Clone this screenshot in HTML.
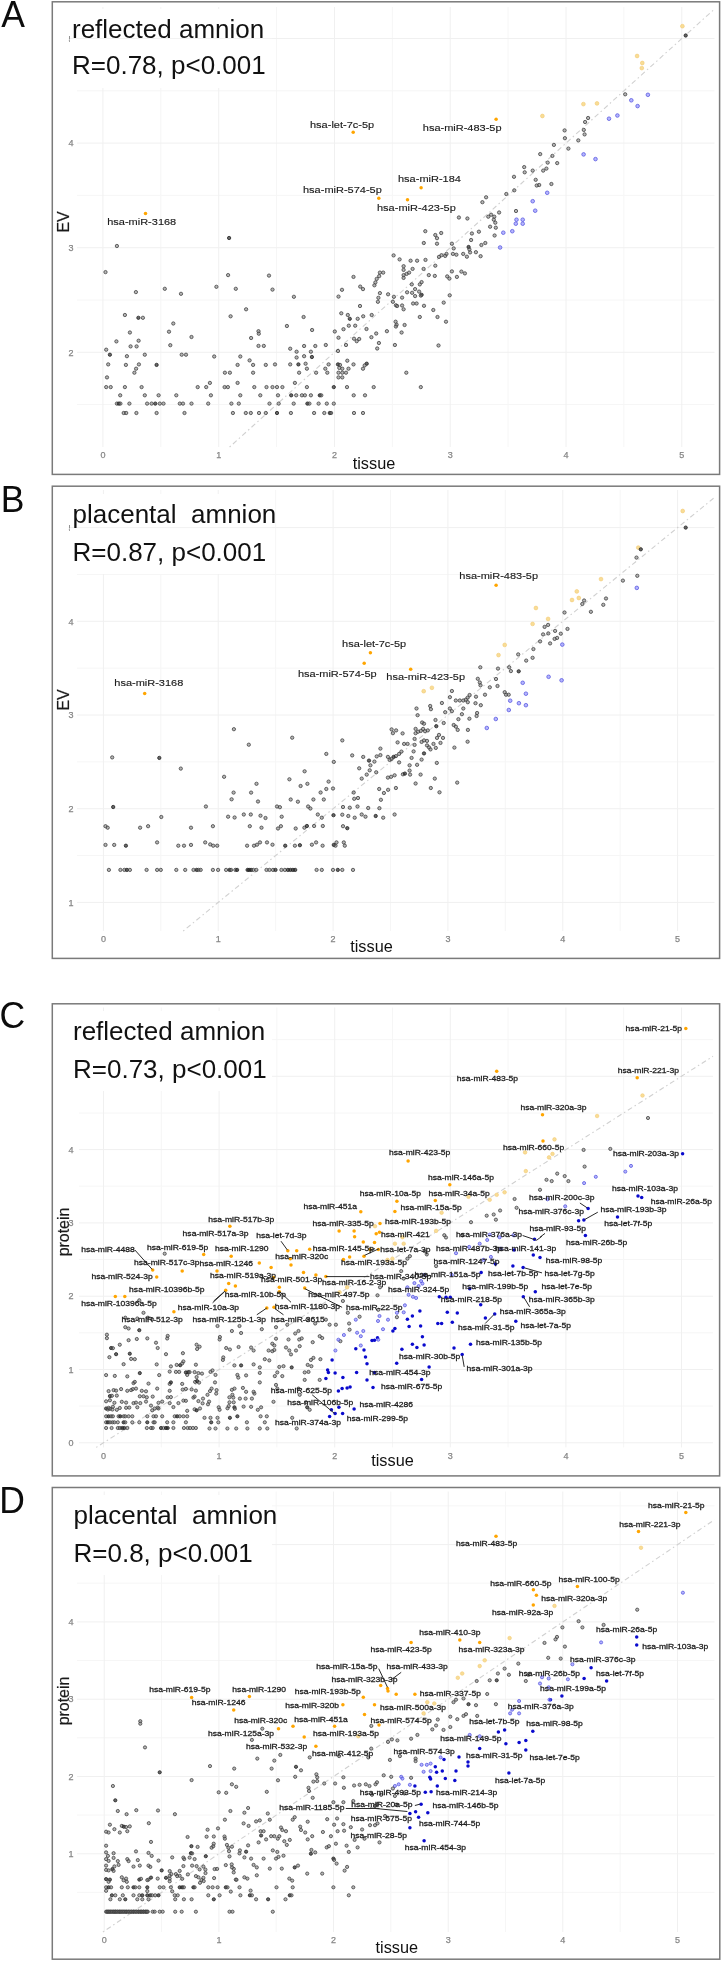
<!DOCTYPE html>
<html><head><meta charset="utf-8"><title>Figure</title>
<style>
html,body{margin:0;padding:0;background:#fff;}
body{width:722px;height:1962px;overflow:hidden;font-family:"Liberation Sans",sans-serif;}
svg{display:block;will-change:transform;}
.g{fill:rgba(110,110,110,.5);stroke:#3c3c3c;stroke-width:.85;stroke-opacity:.9}
.gd{fill:rgba(40,40,40,.7);stroke:#222;stroke-width:.8}
.o{fill:#ffa500;stroke:none}
.lo{fill:#f8dd96;stroke:#f3c974;stroke-width:.6}
.b{fill:#0a0acd;stroke:none}
.lb{fill:rgba(120,120,255,.55);stroke:#5a5ae0;stroke-width:.8}
.t{font-size:9px;fill:#868686;stroke:#868686;stroke-width:.25px;text-anchor:middle}
.ll{stroke:#2a2a2a;stroke-width:1;fill:none}
</style></head><body>
<svg width="722" height="1962" viewBox="0 0 722 1962" font-family="Liberation Sans, sans-serif">
<rect x="0" y="0" width="722" height="1962" fill="#fff"/>
<!-- panel A -->
<g>
<text transform="translate(1.2,27) scale(1,1.06)" font-size="35.5" fill="#0c0c0c">A</text>
<rect x="52.3" y="1.8" width="667.3" height="472.6" fill="#fff" stroke="#7a7a7a" stroke-width="1.5"/>
<path d="M160.8 7V447M276.6 7V447M392.4 7V447M508.1 7V447M623.9 7V447M77 404.6H714.5M77 300.0H714.5M77 195.4H714.5M77 90.8H714.5" stroke="#f6f6f6" stroke-width="1" fill="none"/>
<path d="M102.9 7V447M218.7 7V447M334.5 7V447M450.2 7V447M566.0 7V447M681.8 7V447M77 352.3H714.5M77 247.7H714.5M77 143.1H714.5M77 38.5H714.5" stroke="#f0f0f0" stroke-width="1" fill="none"/>
<text class="t" x="102.9" y="457.7">0</text><text class="t" x="218.7" y="457.7">1</text><text class="t" x="334.5" y="457.7">2</text><text class="t" x="450.2" y="457.7">3</text><text class="t" x="566.0" y="457.7">4</text><text class="t" x="681.8" y="457.7">5</text><text class="t" x="71" y="355.5">2</text><text class="t" x="71" y="250.9">3</text><text class="t" x="71" y="146.3">4</text><text class="t" x="71" y="41.7">5</text>
<line x1="229.6" y1="447.0" x2="714.5" y2="9.0" stroke="#d0d0d0" stroke-width="1.1" stroke-dasharray="1.5 3 5 3"/>
<circle class="g" cx="116.9" cy="246.0" r="1.65"/><circle class="g" cx="105.5" cy="272.1" r="1.65"/><circle class="g" cx="135.9" cy="292.1" r="1.65"/><circle class="g" cx="164.8" cy="288.8" r="1.65"/><circle class="g" cx="181.0" cy="293.8" r="1.65"/><circle class="gd" cx="229.1" cy="238.0" r="1.65"/><circle class="g" cx="228.1" cy="275.1" r="1.65"/><circle class="g" cx="216.4" cy="286.8" r="1.65"/><circle class="g" cx="235.8" cy="288.8" r="1.65"/><circle class="g" cx="269.0" cy="275.6" r="1.65"/><circle class="g" cx="246.1" cy="309.3" r="1.65"/><circle class="g" cx="230.6" cy="316.3" r="1.65"/><circle class="g" cx="124.9" cy="315.0" r="1.65"/><circle class="gd" cx="138.4" cy="317.8" r="1.65"/><circle class="g" cx="142.9" cy="317.8" r="1.65"/><circle class="g" cx="173.3" cy="323.5" r="1.65"/><circle class="g" cx="169.0" cy="331.7" r="1.65"/><circle class="g" cx="129.9" cy="332.5" r="1.65"/><circle class="g" cx="191.5" cy="337.0" r="1.65"/><circle class="g" cx="116.4" cy="341.4" r="1.65"/><circle class="g" cx="138.6" cy="340.7" r="1.65"/><circle class="g" cx="130.6" cy="346.4" r="1.65"/><circle class="g" cx="136.6" cy="346.4" r="1.65"/><circle class="g" cx="170.3" cy="345.2" r="1.65"/><circle class="g" cx="258.5" cy="331.2" r="1.65"/><circle class="g" cx="258.8" cy="333.7" r="1.65"/><circle class="g" cx="251.1" cy="338.0" r="1.65"/><circle class="g" cx="258.5" cy="345.9" r="1.65"/><circle class="g" cx="263.8" cy="345.9" r="1.65"/><circle class="g" cx="106.2" cy="349.7" r="1.65"/><circle class="gd" cx="109.9" cy="354.7" r="1.65"/><circle class="g" cx="126.9" cy="356.2" r="1.65"/><circle class="g" cx="144.8" cy="354.7" r="1.65"/><circle class="g" cx="181.7" cy="354.7" r="1.65"/><circle class="g" cx="186.0" cy="354.7" r="1.65"/><circle class="g" cx="214.2" cy="356.5" r="1.65"/><circle class="g" cx="240.3" cy="356.5" r="1.65"/><circle class="g" cx="249.6" cy="360.4" r="1.65"/><circle class="g" cx="108.2" cy="364.4" r="1.65"/><circle class="g" cx="125.9" cy="364.9" r="1.65"/><circle class="g" cx="138.9" cy="364.4" r="1.65"/><circle class="gd" cx="156.6" cy="364.9" r="1.65"/><circle class="g" cx="237.6" cy="364.9" r="1.65"/><circle class="g" cx="253.1" cy="364.9" r="1.65"/><circle class="g" cx="265.8" cy="364.9" r="1.65"/><circle class="g" cx="136.1" cy="368.7" r="1.65"/><circle class="g" cx="134.4" cy="372.7" r="1.65"/><circle class="g" cx="224.9" cy="372.7" r="1.65"/><circle class="g" cx="229.9" cy="372.7" r="1.65"/><circle class="g" cx="253.1" cy="372.7" r="1.65"/><circle class="g" cx="107.0" cy="377.4" r="1.65"/><circle class="g" cx="209.9" cy="382.9" r="1.65"/><circle class="g" cx="237.6" cy="382.9" r="1.65"/><circle class="g" cx="106.2" cy="387.1" r="1.65"/><circle class="g" cx="110.7" cy="387.1" r="1.65"/><circle class="g" cx="124.9" cy="387.1" r="1.65"/><circle class="g" cx="141.6" cy="387.1" r="1.65"/><circle class="g" cx="197.7" cy="387.1" r="1.65"/><circle class="g" cx="206.2" cy="387.1" r="1.65"/><circle class="g" cx="224.6" cy="387.1" r="1.65"/><circle class="g" cx="227.9" cy="387.1" r="1.65"/><circle class="g" cx="254.3" cy="387.1" r="1.65"/><circle class="g" cx="266.5" cy="387.1" r="1.65"/><circle class="g" cx="120.2" cy="395.3" r="1.65"/><circle class="g" cx="144.8" cy="395.3" r="1.65"/><circle class="g" cx="158.6" cy="395.3" r="1.65"/><circle class="g" cx="176.3" cy="395.3" r="1.65"/><circle class="g" cx="210.9" cy="395.3" r="1.65"/><circle class="g" cx="240.3" cy="395.3" r="1.65"/><circle class="g" cx="260.3" cy="395.3" r="1.65"/><circle class="g" cx="116.9" cy="403.6" r="1.65"/><circle class="gd" cx="118.9" cy="403.6" r="1.65"/><circle class="g" cx="120.4" cy="403.6" r="1.65"/><circle class="g" cx="129.4" cy="403.6" r="1.65"/><circle class="g" cx="147.1" cy="403.6" r="1.65"/><circle class="g" cx="151.6" cy="403.6" r="1.65"/><circle class="gd" cx="155.3" cy="403.6" r="1.65"/><circle class="g" cx="159.8" cy="403.6" r="1.65"/><circle class="g" cx="163.5" cy="403.6" r="1.65"/><circle class="g" cx="179.8" cy="403.6" r="1.65"/><circle class="g" cx="183.0" cy="403.6" r="1.65"/><circle class="g" cx="191.5" cy="403.6" r="1.65"/><circle class="g" cx="208.2" cy="403.6" r="1.65"/><circle class="g" cx="231.4" cy="403.6" r="1.65"/><circle class="g" cx="238.8" cy="403.6" r="1.65"/><circle class="g" cx="269.5" cy="403.6" r="1.65"/><circle class="g" cx="123.7" cy="413.0" r="1.65"/><circle class="g" cx="126.2" cy="413.0" r="1.65"/><circle class="g" cx="136.4" cy="413.0" r="1.65"/><circle class="g" cx="156.6" cy="413.0" r="1.65"/><circle class="g" cx="184.5" cy="413.0" r="1.65"/><circle class="g" cx="232.9" cy="413.0" r="1.65"/><circle class="g" cx="245.8" cy="413.0" r="1.65"/><circle class="g" cx="250.8" cy="413.0" r="1.65"/><circle class="g" cx="259.0" cy="413.0" r="1.65"/><circle class="g" cx="265.8" cy="413.0" r="1.65"/><circle class="g" cx="290.2" cy="348.7" r="1.65"/><circle class="g" cx="304.1" cy="346.0" r="1.65"/><circle class="g" cx="315.3" cy="346.0" r="1.65"/><circle class="g" cx="325.8" cy="345.0" r="1.65"/><circle class="g" cx="346.0" cy="345.0" r="1.65"/><circle class="g" cx="356.7" cy="341.2" r="1.65"/><circle class="g" cx="378.9" cy="343.0" r="1.65"/><circle class="g" cx="394.9" cy="345.0" r="1.65"/><circle class="g" cx="438.5" cy="345.5" r="1.65"/><circle class="g" cx="296.6" cy="351.7" r="1.65"/><circle class="g" cx="310.9" cy="351.7" r="1.65"/><circle class="g" cx="338.0" cy="351.0" r="1.65"/><circle class="g" cx="377.2" cy="348.5" r="1.65"/><circle class="g" cx="296.6" cy="357.5" r="1.65"/><circle class="g" cx="304.1" cy="356.2" r="1.65"/><circle class="gd" cx="311.9" cy="357.0" r="1.65"/><circle class="g" cx="347.3" cy="360.7" r="1.65"/><circle class="g" cx="275.0" cy="364.4" r="1.65"/><circle class="g" cx="290.2" cy="364.4" r="1.65"/><circle class="gd" cx="298.4" cy="364.4" r="1.65"/><circle class="g" cx="305.6" cy="363.7" r="1.65"/><circle class="g" cx="328.6" cy="364.4" r="1.65"/><circle class="gd" cx="338.0" cy="364.4" r="1.65"/><circle class="g" cx="340.0" cy="364.9" r="1.65"/><circle class="g" cx="353.5" cy="364.4" r="1.65"/><circle class="gd" cx="366.7" cy="363.7" r="1.65"/><circle class="g" cx="364.7" cy="365.4" r="1.65"/><circle class="g" cx="306.9" cy="368.7" r="1.65"/><circle class="g" cx="325.3" cy="368.7" r="1.65"/><circle class="g" cx="339.3" cy="367.9" r="1.65"/><circle class="g" cx="342.3" cy="368.7" r="1.65"/><circle class="g" cx="348.5" cy="368.7" r="1.65"/><circle class="g" cx="363.0" cy="368.7" r="1.65"/><circle class="g" cx="299.1" cy="372.7" r="1.65"/><circle class="g" cx="316.1" cy="372.7" r="1.65"/><circle class="g" cx="327.3" cy="372.7" r="1.65"/><circle class="g" cx="338.5" cy="372.7" r="1.65"/><circle class="g" cx="342.3" cy="372.7" r="1.65"/><circle class="g" cx="346.0" cy="372.7" r="1.65"/><circle class="g" cx="406.3" cy="372.7" r="1.65"/><circle class="g" cx="338.5" cy="377.4" r="1.65"/><circle class="g" cx="342.3" cy="377.4" r="1.65"/><circle class="g" cx="294.9" cy="382.9" r="1.65"/><circle class="g" cx="272.5" cy="387.1" r="1.65"/><circle class="g" cx="277.0" cy="387.1" r="1.65"/><circle class="g" cx="282.4" cy="387.1" r="1.65"/><circle class="g" cx="306.9" cy="387.1" r="1.65"/><circle class="gd" cx="333.8" cy="387.1" r="1.65"/><circle class="g" cx="347.0" cy="387.1" r="1.65"/><circle class="g" cx="373.7" cy="387.1" r="1.65"/><circle class="g" cx="420.8" cy="387.1" r="1.65"/><circle class="g" cx="278.0" cy="395.3" r="1.65"/><circle class="gd" cx="291.2" cy="395.3" r="1.65"/><circle class="g" cx="296.2" cy="395.3" r="1.65"/><circle class="g" cx="301.9" cy="395.3" r="1.65"/><circle class="g" cx="304.9" cy="395.3" r="1.65"/><circle class="g" cx="310.9" cy="395.3" r="1.65"/><circle class="gd" cx="319.8" cy="395.3" r="1.65"/><circle class="g" cx="321.3" cy="395.3" r="1.65"/><circle class="g" cx="353.7" cy="395.3" r="1.65"/><circle class="g" cx="365.0" cy="395.3" r="1.65"/><circle class="g" cx="278.7" cy="403.6" r="1.65"/><circle class="g" cx="293.7" cy="403.6" r="1.65"/><circle class="gd" cx="307.4" cy="403.6" r="1.65"/><circle class="g" cx="309.4" cy="403.6" r="1.65"/><circle class="g" cx="318.6" cy="403.6" r="1.65"/><circle class="g" cx="326.8" cy="403.6" r="1.65"/><circle class="g" cx="333.8" cy="403.6" r="1.65"/><circle class="gd" cx="277.0" cy="413.0" r="1.65"/><circle class="g" cx="290.9" cy="413.0" r="1.65"/><circle class="g" cx="314.1" cy="413.0" r="1.65"/><circle class="g" cx="324.3" cy="413.0" r="1.65"/><circle class="gd" cx="329.8" cy="413.0" r="1.65"/><circle class="g" cx="331.1" cy="413.0" r="1.65"/><circle class="g" cx="354.0" cy="413.0" r="1.65"/><circle class="g" cx="363.0" cy="413.0" r="1.65"/><circle class="g" cx="272.5" cy="289.6" r="1.65"/><circle class="g" cx="293.9" cy="296.8" r="1.65"/><circle class="g" cx="303.6" cy="317.0" r="1.65"/><circle class="g" cx="286.9" cy="326.0" r="1.65"/><circle class="g" cx="312.1" cy="330.0" r="1.65"/><circle class="g" cx="334.8" cy="331.5" r="1.65"/><circle class="g" cx="338.5" cy="337.7" r="1.65"/><circle class="g" cx="343.5" cy="329.2" r="1.65"/><circle class="g" cx="348.8" cy="325.7" r="1.65"/><circle class="g" cx="355.2" cy="325.7" r="1.65"/><circle class="g" cx="347.8" cy="315.0" r="1.65"/><circle class="gd" cx="349.8" cy="318.8" r="1.65"/><circle class="g" cx="341.3" cy="313.3" r="1.65"/><circle class="g" cx="357.7" cy="318.8" r="1.65"/><circle class="g" cx="363.2" cy="316.3" r="1.65"/><circle class="g" cx="371.7" cy="315.0" r="1.65"/><circle class="g" cx="360.0" cy="306.0" r="1.65"/><circle class="g" cx="338.5" cy="296.6" r="1.65"/><circle class="g" cx="342.0" cy="289.8" r="1.65"/><circle class="g" cx="353.5" cy="276.9" r="1.65"/><circle class="g" cx="360.2" cy="286.6" r="1.65"/><circle class="g" cx="363.0" cy="289.1" r="1.65"/><circle class="g" cx="366.5" cy="329.0" r="1.65"/><circle class="g" cx="371.4" cy="337.2" r="1.65"/><circle class="g" cx="376.2" cy="333.5" r="1.65"/><circle class="g" cx="354.0" cy="338.7" r="1.65"/><circle class="g" cx="359.2" cy="339.0" r="1.65"/><circle class="g" cx="374.4" cy="285.3" r="1.65"/><circle class="g" cx="375.4" cy="282.4" r="1.65"/><circle class="g" cx="376.7" cy="278.9" r="1.65"/><circle class="g" cx="379.2" cy="276.1" r="1.65"/><circle class="g" cx="379.9" cy="272.6" r="1.65"/><circle class="g" cx="383.2" cy="272.6" r="1.65"/><circle class="g" cx="379.9" cy="293.1" r="1.65"/><circle class="g" cx="378.4" cy="297.8" r="1.65"/><circle class="g" cx="377.9" cy="301.8" r="1.65"/><circle class="g" cx="388.1" cy="294.3" r="1.65"/><circle class="g" cx="393.9" cy="296.8" r="1.65"/><circle class="g" cx="392.9" cy="301.8" r="1.65"/><circle class="g" cx="395.9" cy="305.3" r="1.65"/><circle class="g" cx="397.1" cy="306.0" r="1.65"/><circle class="g" cx="402.1" cy="297.6" r="1.65"/><circle class="g" cx="402.1" cy="305.5" r="1.65"/><circle class="g" cx="403.6" cy="309.3" r="1.65"/><circle class="g" cx="393.6" cy="255.4" r="1.65"/><circle class="g" cx="399.6" cy="259.4" r="1.65"/><circle class="g" cx="403.6" cy="266.2" r="1.65"/><circle class="g" cx="403.6" cy="269.9" r="1.65"/><circle class="g" cx="403.6" cy="275.1" r="1.65"/><circle class="g" cx="403.6" cy="277.9" r="1.65"/><circle class="g" cx="406.6" cy="273.9" r="1.65"/><circle class="g" cx="409.1" cy="272.6" r="1.65"/><circle class="g" cx="412.6" cy="268.9" r="1.65"/><circle class="g" cx="410.6" cy="260.7" r="1.65"/><circle class="g" cx="417.1" cy="260.7" r="1.65"/><circle class="g" cx="425.5" cy="259.9" r="1.65"/><circle class="g" cx="423.6" cy="268.9" r="1.65"/><circle class="g" cx="435.3" cy="265.7" r="1.65"/><circle class="g" cx="439.0" cy="256.9" r="1.65"/><circle class="g" cx="423.8" cy="243.0" r="1.65"/><circle class="g" cx="425.3" cy="231.2" r="1.65"/><circle class="g" cx="435.3" cy="235.0" r="1.65"/><circle class="g" cx="437.0" cy="238.2" r="1.65"/><circle class="g" cx="437.0" cy="243.7" r="1.65"/><circle class="g" cx="428.8" cy="275.1" r="1.65"/><circle class="g" cx="434.8" cy="275.9" r="1.65"/><circle class="g" cx="421.6" cy="282.1" r="1.65"/><circle class="g" cx="419.8" cy="284.4" r="1.65"/><circle class="g" cx="411.8" cy="284.4" r="1.65"/><circle class="g" cx="415.1" cy="289.1" r="1.65"/><circle class="g" cx="419.1" cy="291.6" r="1.65"/><circle class="gd" cx="421.6" cy="294.8" r="1.65"/><circle class="g" cx="420.8" cy="295.6" r="1.65"/><circle class="g" cx="412.1" cy="292.8" r="1.65"/><circle class="g" cx="415.1" cy="296.1" r="1.65"/><circle class="g" cx="407.1" cy="292.3" r="1.65"/><circle class="g" cx="413.1" cy="303.5" r="1.65"/><circle class="g" cx="416.6" cy="303.5" r="1.65"/><circle class="g" cx="424.0" cy="305.8" r="1.65"/><circle class="g" cx="433.3" cy="310.0" r="1.65"/><circle class="g" cx="437.5" cy="317.0" r="1.65"/><circle class="g" cx="419.8" cy="317.0" r="1.65"/><circle class="g" cx="395.6" cy="321.7" r="1.65"/><circle class="g" cx="396.6" cy="324.7" r="1.65"/><circle class="g" cx="395.9" cy="326.5" r="1.65"/><circle class="g" cx="404.6" cy="325.0" r="1.65"/><circle class="g" cx="401.6" cy="332.5" r="1.65"/><circle class="g" cx="386.9" cy="331.2" r="1.65"/><circle class="g" cx="441.2" cy="233.0" r="1.65"/><circle class="g" cx="451.9" cy="243.7" r="1.65"/><circle class="g" cx="453.7" cy="248.4" r="1.65"/><circle class="g" cx="452.9" cy="253.9" r="1.65"/><circle class="g" cx="456.4" cy="254.7" r="1.65"/><circle class="g" cx="446.5" cy="253.9" r="1.65"/><circle class="g" cx="445.2" cy="255.9" r="1.65"/><circle class="g" cx="441.5" cy="255.2" r="1.65"/><circle class="g" cx="447.2" cy="276.4" r="1.65"/><circle class="g" cx="449.4" cy="278.6" r="1.65"/><circle class="g" cx="451.9" cy="271.4" r="1.65"/><circle class="g" cx="456.9" cy="276.9" r="1.65"/><circle class="g" cx="461.4" cy="271.6" r="1.65"/><circle class="g" cx="464.9" cy="273.4" r="1.65"/><circle class="g" cx="463.2" cy="253.9" r="1.65"/><circle class="g" cx="466.9" cy="256.7" r="1.65"/><circle class="g" cx="470.1" cy="252.4" r="1.65"/><circle class="gd" cx="468.6" cy="247.0" r="1.65"/><circle class="g" cx="469.4" cy="249.4" r="1.65"/><circle class="g" cx="471.1" cy="240.0" r="1.65"/><circle class="g" cx="471.9" cy="233.5" r="1.65"/><circle class="g" cx="478.9" cy="231.7" r="1.65"/><circle class="g" cx="475.9" cy="252.2" r="1.65"/><circle class="g" cx="480.6" cy="256.2" r="1.65"/><circle class="g" cx="481.4" cy="245.0" r="1.65"/><circle class="g" cx="485.3" cy="243.0" r="1.65"/><circle class="g" cx="494.6" cy="235.5" r="1.65"/><circle class="lb" cx="503.3" cy="232.7" r="1.8"/><circle class="lb" cx="512.3" cy="231.2" r="1.8"/><circle class="lb" cx="500.1" cy="247.5" r="1.8"/><circle class="g" cx="449.7" cy="295.3" r="1.65"/><circle class="g" cx="443.7" cy="302.6" r="1.65"/><circle class="g" cx="446.0" cy="321.7" r="1.65"/><circle class="o" cx="496.1" cy="119.2" r="1.75"/><circle class="lo" cx="542.4" cy="116.0" r="1.9"/><circle class="g" cx="588.1" cy="118.0" r="1.65"/><circle class="g" cx="585.1" cy="122.0" r="1.65"/><circle class="g" cx="583.8" cy="129.9" r="1.65"/><circle class="g" cx="584.6" cy="134.4" r="1.65"/><circle class="g" cx="578.3" cy="140.4" r="1.65"/><circle class="g" cx="564.6" cy="130.4" r="1.65"/><circle class="g" cx="564.9" cy="138.2" r="1.65"/><circle class="g" cx="568.4" cy="148.6" r="1.65"/><circle class="g" cx="553.9" cy="144.9" r="1.65"/><circle class="g" cx="552.4" cy="155.9" r="1.65"/><circle class="g" cx="540.2" cy="154.1" r="1.65"/><circle class="g" cx="547.7" cy="162.6" r="1.65"/><circle class="g" cx="557.2" cy="163.1" r="1.65"/><circle class="g" cx="546.4" cy="168.6" r="1.65"/><circle class="g" cx="543.2" cy="170.6" r="1.65"/><circle class="g" cx="532.7" cy="170.6" r="1.65"/><circle class="g" cx="524.2" cy="167.1" r="1.65"/><circle class="g" cx="524.7" cy="172.3" r="1.65"/><circle class="g" cx="514.0" cy="176.8" r="1.65"/><circle class="g" cx="535.7" cy="179.8" r="1.65"/><circle class="g" cx="539.2" cy="185.0" r="1.65"/><circle class="g" cx="536.7" cy="185.5" r="1.65"/><circle class="g" cx="551.4" cy="184.0" r="1.65"/><circle class="g" cx="514.3" cy="190.3" r="1.65"/><circle class="g" cx="506.3" cy="194.0" r="1.65"/><circle class="g" cx="486.1" cy="197.3" r="1.65"/><circle class="g" cx="482.4" cy="202.2" r="1.65"/><circle class="g" cx="516.0" cy="211.0" r="1.65"/><circle class="g" cx="499.1" cy="212.5" r="1.65"/><circle class="g" cx="491.1" cy="214.7" r="1.65"/><circle class="g" cx="488.3" cy="216.7" r="1.65"/><circle class="g" cx="494.3" cy="216.7" r="1.65"/><circle class="g" cx="493.8" cy="219.7" r="1.65"/><circle class="g" cx="495.3" cy="222.7" r="1.65"/><circle class="g" cx="490.1" cy="226.7" r="1.65"/><circle class="g" cx="495.8" cy="227.7" r="1.65"/><circle class="g" cx="458.9" cy="217.5" r="1.65"/><circle class="g" cx="467.4" cy="218.5" r="1.65"/><circle class="lb" cx="609.0" cy="118.7" r="1.8"/><circle class="lb" cx="583.6" cy="154.4" r="1.8"/><circle class="lb" cx="595.5" cy="159.1" r="1.8"/><circle class="lb" cx="547.2" cy="192.8" r="1.8"/><circle class="lb" cx="532.7" cy="201.2" r="1.8"/><circle class="lb" cx="535.2" cy="210.7" r="1.8"/><circle class="lb" cx="516.5" cy="219.7" r="1.8"/><circle class="lb" cx="522.7" cy="219.7" r="1.8"/><circle class="lb" cx="515.8" cy="223.7" r="1.8"/><circle class="lb" cx="522.7" cy="223.7" r="1.8"/><circle class="lo" cx="682.4" cy="26.2" r="1.9"/><circle class="lo" cx="637.1" cy="56.0" r="1.9"/><circle class="lo" cx="642.3" cy="63.0" r="1.9"/><circle class="lo" cx="641.8" cy="68.1" r="1.9"/><circle class="lo" cx="583.4" cy="104.1" r="1.9"/><circle class="lo" cx="597.0" cy="103.4" r="1.9"/><circle class="gd" cx="685.7" cy="35.5" r="1.65"/><circle class="g" cx="625.2" cy="94.3" r="1.65"/><circle class="lb" cx="647.9" cy="94.8" r="1.8"/><circle class="lb" cx="631.3" cy="100.3" r="1.8"/><circle class="lb" cx="637.6" cy="106.1" r="1.8"/><circle class="lb" cx="617.4" cy="115.5" r="1.8"/><circle class="o" cx="145.5" cy="213.5" r="1.75"/><circle class="o" cx="353.2" cy="132.2" r="1.75"/><circle class="o" cx="421.1" cy="187.7" r="1.75"/><circle class="o" cx="378.8" cy="198.2" r="1.75"/><circle class="o" cx="407.5" cy="199.8" r="1.75"/>

<rect x="70" y="9" width="202" height="79" fill="#fff"/>
<path d="M70 38.5H272" stroke="#f2f2f2" stroke-width="1"/>
<text x="72" y="37.6" font-size="26" fill="#111">reflected amnion</text>
<text x="72" y="74.4" font-size="26" fill="#111">R=0.78, p&lt;0.001</text>
<text transform="translate(69.2,222) rotate(-90)" font-size="15.9" fill="#1a1a1a" stroke="#1a1a1a" stroke-width=".2" text-anchor="middle">EV</text>
<text x="374" y="469" font-size="16.3" fill="#111" text-anchor="middle">tissue</text>
<text transform="translate(107.2,225) scale(1,.9)" font-size="11" fill="#1a1a1a" stroke="#1a1a1a" stroke-width="0.15" text-anchor="start">hsa-miR-3168</text><text transform="translate(310,128.3) scale(1,.9)" font-size="11" fill="#1a1a1a" stroke="#1a1a1a" stroke-width="0.15" text-anchor="start">hsa-let-7c-5p</text><text transform="translate(422.8,130.6) scale(1,.9)" font-size="11" fill="#1a1a1a" stroke="#1a1a1a" stroke-width="0.15" text-anchor="start">hsa-miR-483-5p</text><text transform="translate(398,181.5) scale(1,.9)" font-size="11" fill="#1a1a1a" stroke="#1a1a1a" stroke-width="0.15" text-anchor="start">hsa-miR-184</text><text transform="translate(303,192.7) scale(1,.9)" font-size="11" fill="#1a1a1a" stroke="#1a1a1a" stroke-width="0.15" text-anchor="start">hsa-miR-574-5p</text><text transform="translate(377,211.4) scale(1,.9)" font-size="11" fill="#1a1a1a" stroke="#1a1a1a" stroke-width="0.15" text-anchor="start">hsa-miR-423-5p</text>
</g>
<!-- panel B -->
<g>
<text transform="translate(0.7,511.6) scale(1,1.06)" font-size="35.5" fill="#0c0c0c">B</text>
<rect x="52.3" y="486.2" width="667.3" height="472.2" fill="#fff" stroke="#7a7a7a" stroke-width="1.5"/>
<path d="M160.8 490V931M275.7 490V931M390.5 490V931M505.3 490V931M620.2 490V931M77 855.5H714.5M77 761.9H714.5M77 668.2H714.5M77 574.5H714.5" stroke="#f6f6f6" stroke-width="1" fill="none"/>
<path d="M103.4 490V931M218.2 490V931M333.1 490V931M447.9 490V931M562.8 490V931M677.6 490V931M77 902.4H714.5M77 808.7H714.5M77 715.0H714.5M77 621.3H714.5M77 527.6H714.5" stroke="#f0f0f0" stroke-width="1" fill="none"/>
<text class="t" x="103.4" y="942.2">0</text><text class="t" x="218.2" y="942.2">1</text><text class="t" x="333.1" y="942.2">2</text><text class="t" x="447.9" y="942.2">3</text><text class="t" x="562.8" y="942.2">4</text><text class="t" x="677.6" y="942.2">5</text><text class="t" x="71" y="905.6">1</text><text class="t" x="71" y="811.9">2</text><text class="t" x="71" y="718.2">3</text><text class="t" x="71" y="624.5">4</text><text class="t" x="71" y="530.8">5</text>
<line x1="183.2" y1="931.0" x2="714.5" y2="497.5" stroke="#d0d0d0" stroke-width="1.1" stroke-dasharray="1.5 3 5 3"/>
<circle class="g" cx="112.2" cy="757.4" r="1.65"/><circle class="gd" cx="159.3" cy="757.9" r="1.65"/><circle class="g" cx="180.8" cy="768.6" r="1.65"/><circle class="g" cx="233.9" cy="729.2" r="1.65"/><circle class="g" cx="248.8" cy="744.7" r="1.65"/><circle class="g" cx="224.1" cy="776.8" r="1.65"/><circle class="g" cx="256.5" cy="783.8" r="1.65"/><circle class="g" cx="233.6" cy="792.6" r="1.65"/><circle class="g" cx="251.1" cy="792.6" r="1.65"/><circle class="g" cx="231.6" cy="799.3" r="1.65"/><circle class="g" cx="258.0" cy="801.5" r="1.65"/><circle class="gd" cx="113.2" cy="807.0" r="1.65"/><circle class="g" cx="205.9" cy="806.5" r="1.65"/><circle class="g" cx="161.3" cy="817.0" r="1.65"/><circle class="g" cx="228.1" cy="816.7" r="1.65"/><circle class="g" cx="234.6" cy="817.5" r="1.65"/><circle class="g" cx="243.8" cy="814.5" r="1.65"/><circle class="g" cx="250.8" cy="814.5" r="1.65"/><circle class="g" cx="260.5" cy="815.7" r="1.65"/><circle class="g" cx="265.5" cy="818.0" r="1.65"/><circle class="g" cx="105.5" cy="826.2" r="1.65"/><circle class="g" cx="107.7" cy="827.7" r="1.65"/><circle class="g" cx="140.1" cy="827.7" r="1.65"/><circle class="g" cx="148.1" cy="826.2" r="1.65"/><circle class="g" cx="191.0" cy="827.7" r="1.65"/><circle class="g" cx="212.9" cy="826.2" r="1.65"/><circle class="g" cx="249.8" cy="826.2" r="1.65"/><circle class="g" cx="261.5" cy="827.7" r="1.65"/><circle class="g" cx="105.5" cy="844.9" r="1.65"/><circle class="g" cx="114.2" cy="844.9" r="1.65"/><circle class="gd" cx="125.9" cy="845.7" r="1.65"/><circle class="g" cx="157.1" cy="842.4" r="1.65"/><circle class="g" cx="178.3" cy="845.7" r="1.65"/><circle class="g" cx="184.0" cy="845.7" r="1.65"/><circle class="g" cx="191.0" cy="844.9" r="1.65"/><circle class="g" cx="205.2" cy="842.4" r="1.65"/><circle class="g" cx="210.2" cy="844.4" r="1.65"/><circle class="g" cx="213.2" cy="845.7" r="1.65"/><circle class="g" cx="217.2" cy="845.7" r="1.65"/><circle class="g" cx="247.1" cy="845.7" r="1.65"/><circle class="g" cx="254.0" cy="845.7" r="1.65"/><circle class="g" cx="257.0" cy="844.7" r="1.65"/><circle class="g" cx="260.0" cy="842.4" r="1.65"/><circle class="g" cx="267.0" cy="842.4" r="1.65"/><circle class="g" cx="108.9" cy="869.9" r="1.65"/><circle class="g" cx="120.4" cy="869.9" r="1.65"/><circle class="g" cx="124.4" cy="869.9" r="1.65"/><circle class="gd" cx="126.9" cy="869.9" r="1.65"/><circle class="g" cx="129.9" cy="869.9" r="1.65"/><circle class="g" cx="146.6" cy="869.9" r="1.65"/><circle class="g" cx="157.1" cy="869.9" r="1.65"/><circle class="g" cx="160.8" cy="869.9" r="1.65"/><circle class="g" cx="176.3" cy="869.9" r="1.65"/><circle class="g" cx="185.2" cy="869.9" r="1.65"/><circle class="g" cx="193.5" cy="869.9" r="1.65"/><circle class="gd" cx="196.7" cy="869.9" r="1.65"/><circle class="g" cx="198.5" cy="869.9" r="1.65"/><circle class="g" cx="200.7" cy="869.9" r="1.65"/><circle class="g" cx="212.9" cy="869.9" r="1.65"/><circle class="g" cx="218.1" cy="869.9" r="1.65"/><circle class="g" cx="226.1" cy="869.9" r="1.65"/><circle class="gd" cx="229.6" cy="869.9" r="1.65"/><circle class="g" cx="231.1" cy="869.9" r="1.65"/><circle class="g" cx="235.4" cy="869.9" r="1.65"/><circle class="gd" cx="237.1" cy="869.9" r="1.65"/><circle class="gd" cx="247.6" cy="869.9" r="1.65"/><circle class="gd" cx="249.1" cy="869.9" r="1.65"/><circle class="gd" cx="251.1" cy="869.9" r="1.65"/><circle class="g" cx="253.3" cy="869.9" r="1.65"/><circle class="g" cx="256.3" cy="869.9" r="1.65"/><circle class="g" cx="266.5" cy="869.9" r="1.65"/><circle class="g" cx="269.5" cy="869.9" r="1.65"/><circle class="g" cx="278.0" cy="828.5" r="1.65"/><circle class="g" cx="280.9" cy="826.2" r="1.65"/><circle class="g" cx="295.7" cy="828.5" r="1.65"/><circle class="g" cx="304.4" cy="827.7" r="1.65"/><circle class="gd" cx="306.9" cy="826.0" r="1.65"/><circle class="g" cx="314.1" cy="826.0" r="1.65"/><circle class="g" cx="322.8" cy="826.0" r="1.65"/><circle class="g" cx="343.0" cy="826.2" r="1.65"/><circle class="gd" cx="347.3" cy="828.2" r="1.65"/><circle class="g" cx="272.5" cy="844.7" r="1.65"/><circle class="gd" cx="285.2" cy="845.7" r="1.65"/><circle class="g" cx="294.9" cy="845.7" r="1.65"/><circle class="gd" cx="299.9" cy="845.2" r="1.65"/><circle class="g" cx="311.9" cy="844.7" r="1.65"/><circle class="g" cx="316.1" cy="842.4" r="1.65"/><circle class="g" cx="322.6" cy="845.7" r="1.65"/><circle class="gd" cx="333.8" cy="844.9" r="1.65"/><circle class="g" cx="336.5" cy="842.4" r="1.65"/><circle class="g" cx="335.5" cy="845.7" r="1.65"/><circle class="g" cx="343.8" cy="842.4" r="1.65"/><circle class="g" cx="344.8" cy="845.7" r="1.65"/><circle class="g" cx="273.0" cy="869.9" r="1.65"/><circle class="gd" cx="275.5" cy="869.9" r="1.65"/><circle class="g" cx="281.4" cy="869.9" r="1.65"/><circle class="g" cx="284.9" cy="869.9" r="1.65"/><circle class="gd" cx="287.9" cy="869.9" r="1.65"/><circle class="gd" cx="290.4" cy="869.9" r="1.65"/><circle class="gd" cx="292.9" cy="869.9" r="1.65"/><circle class="gd" cx="295.2" cy="869.9" r="1.65"/><circle class="g" cx="316.6" cy="869.9" r="1.65"/><circle class="g" cx="321.8" cy="869.9" r="1.65"/><circle class="g" cx="333.0" cy="869.9" r="1.65"/><circle class="gd" cx="337.8" cy="869.9" r="1.65"/><circle class="g" cx="342.3" cy="869.9" r="1.65"/><circle class="g" cx="353.0" cy="869.9" r="1.65"/><circle class="g" cx="292.2" cy="737.7" r="1.65"/><circle class="g" cx="342.3" cy="740.4" r="1.65"/><circle class="g" cx="326.3" cy="753.9" r="1.65"/><circle class="g" cx="333.8" cy="761.9" r="1.65"/><circle class="g" cx="304.6" cy="771.3" r="1.65"/><circle class="g" cx="289.4" cy="779.3" r="1.65"/><circle class="g" cx="300.6" cy="786.0" r="1.65"/><circle class="g" cx="307.4" cy="783.8" r="1.65"/><circle class="g" cx="328.6" cy="781.6" r="1.65"/><circle class="g" cx="326.3" cy="789.0" r="1.65"/><circle class="g" cx="333.0" cy="788.5" r="1.65"/><circle class="g" cx="320.6" cy="792.5" r="1.65"/><circle class="g" cx="313.4" cy="799.5" r="1.65"/><circle class="g" cx="323.8" cy="799.5" r="1.65"/><circle class="g" cx="290.7" cy="799.5" r="1.65"/><circle class="g" cx="297.9" cy="801.7" r="1.65"/><circle class="g" cx="277.0" cy="806.5" r="1.65"/><circle class="g" cx="279.9" cy="807.2" r="1.65"/><circle class="g" cx="308.1" cy="806.5" r="1.65"/><circle class="g" cx="310.4" cy="808.5" r="1.65"/><circle class="g" cx="317.8" cy="814.5" r="1.65"/><circle class="g" cx="321.8" cy="817.7" r="1.65"/><circle class="gd" cx="333.5" cy="815.2" r="1.65"/><circle class="g" cx="281.7" cy="816.7" r="1.65"/><circle class="g" cx="352.2" cy="755.4" r="1.65"/><circle class="g" cx="363.2" cy="756.9" r="1.65"/><circle class="gd" cx="369.0" cy="760.6" r="1.65"/><circle class="g" cx="359.2" cy="768.3" r="1.65"/><circle class="g" cx="370.4" cy="765.3" r="1.65"/><circle class="g" cx="374.4" cy="761.6" r="1.65"/><circle class="g" cx="376.7" cy="756.4" r="1.65"/><circle class="g" cx="380.4" cy="755.1" r="1.65"/><circle class="g" cx="380.4" cy="748.6" r="1.65"/><circle class="g" cx="369.7" cy="770.3" r="1.65"/><circle class="g" cx="366.7" cy="774.6" r="1.65"/><circle class="g" cx="376.2" cy="772.3" r="1.65"/><circle class="g" cx="361.7" cy="778.6" r="1.65"/><circle class="g" cx="353.7" cy="792.5" r="1.65"/><circle class="g" cx="354.2" cy="798.8" r="1.65"/><circle class="g" cx="358.0" cy="798.0" r="1.65"/><circle class="g" cx="343.0" cy="807.0" r="1.65"/><circle class="g" cx="349.8" cy="807.7" r="1.65"/><circle class="g" cx="357.5" cy="806.5" r="1.65"/><circle class="g" cx="368.2" cy="808.0" r="1.65"/><circle class="g" cx="379.4" cy="808.2" r="1.65"/><circle class="g" cx="380.9" cy="799.8" r="1.65"/><circle class="g" cx="383.9" cy="793.0" r="1.65"/><circle class="g" cx="379.2" cy="789.0" r="1.65"/><circle class="g" cx="388.1" cy="789.8" r="1.65"/><circle class="g" cx="395.9" cy="788.0" r="1.65"/><circle class="g" cx="342.3" cy="814.7" r="1.65"/><circle class="g" cx="348.3" cy="816.0" r="1.65"/><circle class="g" cx="354.7" cy="817.7" r="1.65"/><circle class="g" cx="361.7" cy="814.5" r="1.65"/><circle class="g" cx="365.5" cy="816.7" r="1.65"/><circle class="gd" cx="375.7" cy="816.0" r="1.65"/><circle class="g" cx="383.2" cy="817.7" r="1.65"/><circle class="g" cx="394.6" cy="814.5" r="1.65"/><circle class="g" cx="391.6" cy="729.4" r="1.65"/><circle class="g" cx="396.1" cy="730.4" r="1.65"/><circle class="g" cx="392.9" cy="733.2" r="1.65"/><circle class="g" cx="402.6" cy="733.4" r="1.65"/><circle class="g" cx="397.6" cy="742.4" r="1.65"/><circle class="g" cx="404.1" cy="743.9" r="1.65"/><circle class="g" cx="407.6" cy="743.9" r="1.65"/><circle class="g" cx="401.4" cy="751.6" r="1.65"/><circle class="g" cx="399.1" cy="753.9" r="1.65"/><circle class="g" cx="395.9" cy="756.1" r="1.65"/><circle class="gd" cx="393.6" cy="756.9" r="1.65"/><circle class="g" cx="391.4" cy="758.9" r="1.65"/><circle class="g" cx="387.9" cy="756.9" r="1.65"/><circle class="g" cx="389.6" cy="759.9" r="1.65"/><circle class="g" cx="399.1" cy="762.4" r="1.65"/><circle class="g" cx="387.9" cy="777.6" r="1.65"/><circle class="g" cx="391.1" cy="776.8" r="1.65"/><circle class="g" cx="394.6" cy="775.3" r="1.65"/><circle class="g" cx="402.9" cy="774.3" r="1.65"/><circle class="gd" cx="404.9" cy="773.6" r="1.65"/><circle class="g" cx="410.1" cy="774.6" r="1.65"/><circle class="g" cx="409.6" cy="770.6" r="1.65"/><circle class="g" cx="409.6" cy="765.3" r="1.65"/><circle class="g" cx="411.6" cy="757.9" r="1.65"/><circle class="g" cx="413.6" cy="751.4" r="1.65"/><circle class="g" cx="414.6" cy="744.9" r="1.65"/><circle class="g" cx="414.6" cy="738.9" r="1.65"/><circle class="g" cx="415.6" cy="733.2" r="1.65"/><circle class="g" cx="418.1" cy="731.7" r="1.65"/><circle class="g" cx="415.6" cy="728.9" r="1.65"/><circle class="g" cx="420.8" cy="730.9" r="1.65"/><circle class="g" cx="423.1" cy="728.9" r="1.65"/><circle class="g" cx="425.0" cy="731.2" r="1.65"/><circle class="g" cx="427.8" cy="730.4" r="1.65"/><circle class="g" cx="422.1" cy="722.5" r="1.65"/><circle class="g" cx="424.0" cy="723.7" r="1.65"/><circle class="g" cx="417.6" cy="715.2" r="1.65"/><circle class="g" cx="435.5" cy="720.0" r="1.65"/><circle class="gd" cx="436.3" cy="726.2" r="1.65"/><circle class="g" cx="439.0" cy="734.9" r="1.65"/><circle class="g" cx="437.0" cy="737.9" r="1.65"/><circle class="g" cx="433.5" cy="743.9" r="1.65"/><circle class="g" cx="435.8" cy="747.9" r="1.65"/><circle class="g" cx="427.0" cy="745.4" r="1.65"/><circle class="g" cx="429.0" cy="747.4" r="1.65"/><circle class="g" cx="430.5" cy="749.4" r="1.65"/><circle class="g" cx="427.0" cy="740.9" r="1.65"/><circle class="g" cx="424.0" cy="740.4" r="1.65"/><circle class="g" cx="421.6" cy="741.9" r="1.65"/><circle class="gd" cx="424.0" cy="753.4" r="1.65"/><circle class="g" cx="417.1" cy="764.8" r="1.65"/><circle class="g" cx="421.6" cy="759.6" r="1.65"/><circle class="g" cx="420.6" cy="774.6" r="1.65"/><circle class="g" cx="415.6" cy="783.5" r="1.65"/><circle class="g" cx="430.8" cy="788.0" r="1.65"/><circle class="g" cx="434.8" cy="778.6" r="1.65"/><circle class="g" cx="436.8" cy="762.9" r="1.65"/><circle class="g" cx="439.5" cy="792.3" r="1.65"/><circle class="g" cx="443.7" cy="723.0" r="1.65"/><circle class="g" cx="445.2" cy="712.2" r="1.65"/><circle class="g" cx="451.9" cy="711.2" r="1.65"/><circle class="g" cx="461.9" cy="714.2" r="1.65"/><circle class="g" cx="458.4" cy="719.2" r="1.65"/><circle class="g" cx="453.7" cy="725.0" r="1.65"/><circle class="g" cx="455.9" cy="726.7" r="1.65"/><circle class="g" cx="457.7" cy="729.9" r="1.65"/><circle class="g" cx="467.9" cy="729.9" r="1.65"/><circle class="g" cx="469.4" cy="718.7" r="1.65"/><circle class="g" cx="476.6" cy="716.0" r="1.65"/><circle class="g" cx="477.1" cy="713.0" r="1.65"/><circle class="g" cx="443.0" cy="737.9" r="1.65"/><circle class="g" cx="440.5" cy="742.9" r="1.65"/><circle class="g" cx="454.4" cy="747.6" r="1.65"/><circle class="g" cx="467.6" cy="741.7" r="1.65"/><circle class="g" cx="457.2" cy="782.6" r="1.65"/><circle class="lb" cx="495.8" cy="719.0" r="1.8"/><circle class="lb" cx="486.8" cy="728.0" r="1.8"/><circle class="lb" cx="508.8" cy="710.0" r="1.8"/><circle class="o" cx="410.7" cy="669.3" r="1.75"/><circle class="lo" cx="423.7" cy="691.2" r="1.9"/><circle class="lo" cx="431.9" cy="687.8" r="1.9"/><circle class="lo" cx="498.5" cy="655.1" r="1.9"/><circle class="lo" cx="504.7" cy="644.9" r="1.9"/><circle class="lo" cx="532.6" cy="623.9" r="1.9"/><circle class="lo" cx="535.9" cy="608.0" r="1.9"/><circle class="lo" cx="548.1" cy="618.9" r="1.9"/><circle class="lo" cx="572.0" cy="600.0" r="1.9"/><circle class="g" cx="564.5" cy="612.5" r="1.65"/><circle class="g" cx="567.5" cy="628.9" r="1.65"/><circle class="g" cx="560.8" cy="633.7" r="1.65"/><circle class="g" cx="555.1" cy="630.9" r="1.65"/><circle class="g" cx="557.1" cy="637.9" r="1.65"/><circle class="g" cx="554.6" cy="638.9" r="1.65"/><circle class="g" cx="550.1" cy="643.4" r="1.65"/><circle class="g" cx="548.1" cy="624.9" r="1.65"/><circle class="g" cx="544.6" cy="626.9" r="1.65"/><circle class="g" cx="548.3" cy="633.4" r="1.65"/><circle class="g" cx="543.1" cy="634.4" r="1.65"/><circle class="g" cx="540.1" cy="641.4" r="1.65"/><circle class="g" cx="533.4" cy="649.1" r="1.65"/><circle class="g" cx="532.6" cy="657.8" r="1.65"/><circle class="g" cx="526.2" cy="660.6" r="1.65"/><circle class="g" cx="518.2" cy="654.4" r="1.65"/><circle class="gd" cx="518.7" cy="671.3" r="1.65"/><circle class="g" cx="509.2" cy="667.3" r="1.65"/><circle class="g" cx="510.9" cy="671.1" r="1.65"/><circle class="g" cx="498.0" cy="668.6" r="1.65"/><circle class="g" cx="480.3" cy="667.3" r="1.65"/><circle class="g" cx="477.8" cy="678.8" r="1.65"/><circle class="g" cx="479.8" cy="682.5" r="1.65"/><circle class="g" cx="480.5" cy="685.3" r="1.65"/><circle class="g" cx="496.0" cy="679.0" r="1.65"/><circle class="g" cx="489.8" cy="687.3" r="1.65"/><circle class="g" cx="497.5" cy="686.0" r="1.65"/><circle class="g" cx="485.0" cy="694.7" r="1.65"/><circle class="g" cx="476.0" cy="696.7" r="1.65"/><circle class="g" cx="469.6" cy="695.0" r="1.65"/><circle class="g" cx="467.6" cy="697.7" r="1.65"/><circle class="g" cx="465.8" cy="699.7" r="1.65"/><circle class="g" cx="463.3" cy="700.5" r="1.65"/><circle class="g" cx="459.8" cy="700.5" r="1.65"/><circle class="g" cx="455.8" cy="700.5" r="1.65"/><circle class="g" cx="451.9" cy="691.0" r="1.65"/><circle class="g" cx="449.9" cy="697.2" r="1.65"/><circle class="g" cx="441.9" cy="703.0" r="1.65"/><circle class="g" cx="430.2" cy="706.0" r="1.65"/><circle class="g" cx="430.9" cy="709.2" r="1.65"/><circle class="g" cx="416.5" cy="708.5" r="1.65"/><circle class="g" cx="449.9" cy="708.5" r="1.65"/><circle class="g" cx="463.3" cy="708.5" r="1.65"/><circle class="g" cx="467.8" cy="702.2" r="1.65"/><circle class="g" cx="475.5" cy="703.2" r="1.65"/><circle class="g" cx="480.8" cy="705.2" r="1.65"/><circle class="g" cx="504.7" cy="692.2" r="1.65"/><circle class="g" cx="506.0" cy="694.7" r="1.65"/><circle class="g" cx="508.7" cy="694.7" r="1.65"/><circle class="lb" cx="562.3" cy="644.6" r="1.8"/><circle class="lb" cx="548.6" cy="676.8" r="1.8"/><circle class="lb" cx="561.6" cy="680.3" r="1.8"/><circle class="lb" cx="522.7" cy="682.8" r="1.8"/><circle class="lb" cx="525.9" cy="693.7" r="1.8"/><circle class="lb" cx="510.2" cy="700.7" r="1.8"/><circle class="lb" cx="518.9" cy="703.2" r="1.8"/><circle class="lb" cx="525.9" cy="705.2" r="1.8"/><circle class="lo" cx="682.7" cy="511.0" r="1.9"/><circle class="lo" cx="638.3" cy="547.6" r="1.9"/><circle class="lo" cx="601.0" cy="579.1" r="1.9"/><circle class="lo" cx="576.8" cy="591.4" r="1.9"/><circle class="lo" cx="578.8" cy="598.0" r="1.9"/><circle class="gd" cx="685.7" cy="527.6" r="1.65"/><circle class="gd" cx="640.8" cy="549.3" r="1.65"/><circle class="g" cx="636.5" cy="557.6" r="1.65"/><circle class="g" cx="637.3" cy="575.8" r="1.65"/><circle class="g" cx="622.9" cy="580.6" r="1.65"/><circle class="g" cx="606.0" cy="598.5" r="1.65"/><circle class="g" cx="603.3" cy="604.8" r="1.65"/><circle class="g" cx="584.1" cy="600.5" r="1.65"/><circle class="g" cx="582.3" cy="604.0" r="1.65"/><circle class="g" cx="590.9" cy="611.8" r="1.65"/><circle class="lb" cx="636.8" cy="587.9" r="1.8"/><circle class="o" cx="144.7" cy="693.4" r="1.75"/><circle class="o" cx="496.1" cy="585.2" r="1.75"/><circle class="o" cx="370.4" cy="652.7" r="1.75"/><circle class="o" cx="364.2" cy="663.2" r="1.75"/>

<rect x="70" y="494" width="202" height="80" fill="#fff"/>
<path d="M70 527.6H272" stroke="#f2f2f2" stroke-width="1"/>
<text x="72.5" y="522.8" font-size="26" fill="#111">placental&#160; amnion</text>
<text x="72.5" y="560.8" font-size="26" fill="#111">R=0.87, p&lt;0.001</text>
<text transform="translate(68.7,700) rotate(-90)" font-size="15.9" fill="#1a1a1a" stroke="#1a1a1a" stroke-width=".2" text-anchor="middle">EV</text>
<text x="371.5" y="951.5" font-size="16.3" fill="#111" text-anchor="middle">tissue</text>
<text transform="translate(114.3,685.5) scale(1,.9)" font-size="11" fill="#1a1a1a" stroke="#1a1a1a" stroke-width="0.15" text-anchor="start">hsa-miR-3168</text><text transform="translate(459.3,579.4) scale(1,.9)" font-size="11" fill="#1a1a1a" stroke="#1a1a1a" stroke-width="0.15" text-anchor="start">hsa-miR-483-5p</text><text transform="translate(342.1,647.3) scale(1,.9)" font-size="11" fill="#1a1a1a" stroke="#1a1a1a" stroke-width="0.15" text-anchor="start">hsa-let-7c-5p</text><text transform="translate(297.9,677.1) scale(1,.9)" font-size="11" fill="#1a1a1a" stroke="#1a1a1a" stroke-width="0.15" text-anchor="start">hsa-miR-574-5p</text><text transform="translate(386.3,680.2) scale(1,.9)" font-size="11" fill="#1a1a1a" stroke="#1a1a1a" stroke-width="0.15" text-anchor="start">hsa-miR-423-5p</text>
</g>
<!-- panel C -->
<g>
<text transform="translate(-0.5,1028.2) scale(1,1.06)" font-size="35.5" fill="#0c0c0c">C</text>
<rect x="52.3" y="1003.8" width="667.3" height="472.1" fill="#fff" stroke="#7a7a7a" stroke-width="1.5"/>
<path d="M161.3 1007.5V1447.4M276.9 1007.5V1447.4M392.5 1007.5V1447.4M508.1 1007.5V1447.4M623.7 1007.5V1447.4M79 1406.1H713M79 1332.8H713M79 1259.5H713M79 1186.2H713M79 1113.0H713M79 1039.7H713" stroke="#f6f6f6" stroke-width="1" fill="none"/>
<path d="M103.5 1007.5V1447.4M219.1 1007.5V1447.4M334.7 1007.5V1447.4M450.3 1007.5V1447.4M565.9 1007.5V1447.4M681.5 1007.5V1447.4M79 1442.8H713M79 1369.5H713M79 1296.2H713M79 1222.9H713M79 1149.6H713M79 1076.3H713" stroke="#f0f0f0" stroke-width="1" fill="none"/>
<text class="t" x="103.5" y="1458.6">0</text><text class="t" x="219.1" y="1458.6">1</text><text class="t" x="334.7" y="1458.6">2</text><text class="t" x="450.3" y="1458.6">3</text><text class="t" x="565.9" y="1458.6">4</text><text class="t" x="681.5" y="1458.6">5</text><text class="t" x="71" y="1446.0">0</text><text class="t" x="71" y="1372.7">1</text><text class="t" x="71" y="1299.4">2</text><text class="t" x="71" y="1226.1">3</text><text class="t" x="71" y="1152.8">4</text>
<line x1="96.2" y1="1447.4" x2="713.0" y2="1056.3" stroke="#d0d0d0" stroke-width="1.1" stroke-dasharray="1.5 3 5 3"/>
<circle class="o" cx="685.8" cy="1028.4" r="1.75"/><circle class="o" cx="637.2" cy="1077.8" r="1.75"/><circle class="lo" cx="642.5" cy="1095.5" r="1.8"/><circle class="lo" cx="597.1" cy="1116.0" r="1.8"/><circle class="o" cx="542.5" cy="1114.7" r="1.75"/><circle class="g" cx="648.0" cy="1118.0" r="1.6"/><circle class="b" cx="682.6" cy="1153.7" r="1.75"/><circle class="b" cx="638.0" cy="1196.0" r="1.75"/><circle class="b" cx="641.7" cy="1197.5" r="1.75"/><circle class="b" cx="588.1" cy="1208.5" r="1.75"/><circle class="b" cx="583.9" cy="1220.0" r="1.75"/><circle class="b" cx="578.6" cy="1220.7" r="1.75"/><circle class="b" cx="617.5" cy="1217.0" r="1.75"/><circle class="b" cx="585.4" cy="1235.4" r="1.75"/><circle class="o" cx="543.0" cy="1140.9" r="1.75"/><circle class="lo" cx="554.5" cy="1139.4" r="1.8"/><circle class="lo" cx="552.5" cy="1153.9" r="1.8"/><circle class="g" cx="583.6" cy="1149.9" r="1.6"/><circle class="g" cx="610.3" cy="1148.9" r="1.6"/><circle class="g" cx="584.6" cy="1166.6" r="1.6"/><circle class="g" cx="557.2" cy="1173.6" r="1.6"/><circle class="g" cx="564.7" cy="1176.1" r="1.6"/><circle class="g" cx="546.5" cy="1179.8" r="1.6"/><circle class="g" cx="551.7" cy="1181.1" r="1.6"/><circle class="g" cx="568.4" cy="1181.1" r="1.6"/><circle class="g" cx="540.0" cy="1189.8" r="1.6"/><circle class="lb" cx="631.0" cy="1165.9" r="1.55"/><circle class="lb" cx="625.3" cy="1171.6" r="1.55"/><circle class="lb" cx="595.8" cy="1176.8" r="1.55"/><circle class="lb" cx="584.1" cy="1183.1" r="1.55"/><circle class="lb" cx="547.5" cy="1199.3" r="1.55"/><circle class="lb" cx="565.2" cy="1206.3" r="1.55"/><circle class="b" cx="540.0" cy="1257.4" r="1.75"/><circle class="o" cx="496.7" cy="1071.3" r="1.75"/><circle class="o" cx="408.1" cy="1160.9" r="1.75"/><circle class="o" cx="449.8" cy="1184.8" r="1.75"/><circle class="o" cx="396.9" cy="1201.3" r="1.75"/><circle class="o" cx="435.3" cy="1200.5" r="1.75"/><circle class="o" cx="394.9" cy="1211.5" r="1.75"/><circle class="o" cx="380.0" cy="1223.5" r="1.75"/><circle class="o" cx="376.2" cy="1233.7" r="1.75"/><circle class="o" cx="379.5" cy="1232.2" r="1.75"/><circle class="lo" cx="525.1" cy="1152.4" r="1.8"/><circle class="lo" cx="525.8" cy="1171.1" r="1.8"/><circle class="lo" cx="549.0" cy="1157.4" r="1.8"/><circle class="lo" cx="504.6" cy="1192.3" r="1.8"/><circle class="lo" cx="496.7" cy="1194.8" r="1.8"/><circle class="lo" cx="489.7" cy="1199.8" r="1.8"/><circle class="lo" cx="468.5" cy="1196.8" r="1.8"/><circle class="lo" cx="441.6" cy="1212.7" r="1.8"/><circle class="lo" cx="436.1" cy="1230.9" r="1.8"/><circle class="lo" cx="402.4" cy="1237.2" r="1.8"/><circle class="g" cx="514.6" cy="1199.0" r="1.6"/><circle class="g" cx="516.6" cy="1207.8" r="1.6"/><circle class="g" cx="500.1" cy="1210.5" r="1.6"/><circle class="g" cx="493.7" cy="1214.5" r="1.6"/><circle class="g" cx="486.7" cy="1215.7" r="1.6"/><circle class="g" cx="495.9" cy="1219.7" r="1.6"/><circle class="g" cx="471.0" cy="1222.2" r="1.6"/><circle class="g" cx="444.3" cy="1235.2" r="1.6"/><circle class="g" cx="462.2" cy="1235.2" r="1.6"/><circle class="lb" cx="489.7" cy="1234.7" r="1.55"/><circle class="lb" cx="499.6" cy="1237.2" r="1.55"/><circle class="lb" cx="513.4" cy="1235.2" r="1.55"/><circle class="b" cx="534.5" cy="1239.2" r="1.75"/><circle class="b" cx="533.3" cy="1254.9" r="1.75"/><circle class="b" cx="495.4" cy="1264.1" r="1.75"/><circle class="b" cx="512.9" cy="1266.1" r="1.75"/><circle class="b" cx="523.1" cy="1267.4" r="1.75"/><circle class="b" cx="481.2" cy="1272.4" r="1.75"/><circle class="b" cx="469.7" cy="1288.8" r="1.75"/><circle class="b" cx="535.3" cy="1291.8" r="1.75"/><circle class="b" cx="523.3" cy="1296.8" r="1.75"/><circle class="b" cx="439.3" cy="1296.8" r="1.75"/><circle class="b" cx="446.0" cy="1297.3" r="1.75"/><circle class="b" cx="450.3" cy="1297.3" r="1.75"/><circle class="b" cx="480.7" cy="1304.8" r="1.75"/><circle class="b" cx="447.3" cy="1312.3" r="1.75"/><circle class="b" cx="457.3" cy="1313.0" r="1.75"/><circle class="b" cx="494.7" cy="1314.0" r="1.75"/><circle class="b" cx="485.4" cy="1318.0" r="1.75"/><circle class="b" cx="515.8" cy="1321.2" r="1.75"/><circle class="b" cx="419.9" cy="1311.0" r="1.75"/><circle class="b" cx="412.4" cy="1316.0" r="1.75"/><circle class="b" cx="407.4" cy="1319.2" r="1.75"/><circle class="b" cx="409.1" cy="1326.5" r="1.75"/><circle class="b" cx="420.6" cy="1326.0" r="1.75"/><circle class="b" cx="437.8" cy="1323.5" r="1.75"/><circle class="b" cx="441.6" cy="1323.5" r="1.75"/><circle class="b" cx="452.3" cy="1322.2" r="1.75"/><circle class="b" cx="394.9" cy="1328.5" r="1.75"/><circle class="b" cx="392.9" cy="1331.0" r="1.75"/><circle class="b" cx="422.4" cy="1336.7" r="1.75"/><circle class="b" cx="377.5" cy="1337.7" r="1.75"/><circle class="b" cx="374.5" cy="1340.2" r="1.75"/><circle class="b" cx="470.5" cy="1344.2" r="1.75"/><circle class="b" cx="412.4" cy="1344.2" r="1.75"/><circle class="b" cx="514.1" cy="1249.9" r="1.75"/><circle class="lb" cx="487.2" cy="1240.0" r="1.55"/><circle class="lb" cx="479.7" cy="1243.7" r="1.55"/><circle class="lb" cx="469.2" cy="1246.9" r="1.55"/><circle class="lb" cx="490.9" cy="1256.9" r="1.55"/><circle class="lb" cx="483.4" cy="1259.9" r="1.55"/><circle class="lb" cx="451.8" cy="1274.9" r="1.55"/><circle class="lb" cx="424.4" cy="1274.9" r="1.55"/><circle class="lb" cx="421.1" cy="1281.1" r="1.55"/><circle class="lb" cx="422.4" cy="1283.6" r="1.55"/><circle class="lb" cx="414.4" cy="1283.1" r="1.55"/><circle class="lb" cx="418.6" cy="1286.1" r="1.55"/><circle class="lb" cx="407.4" cy="1287.3" r="1.55"/><circle class="lb" cx="408.6" cy="1294.8" r="1.55"/><circle class="lb" cx="412.9" cy="1296.8" r="1.55"/><circle class="lb" cx="416.1" cy="1298.0" r="1.55"/><circle class="lb" cx="404.9" cy="1305.3" r="1.55"/><circle class="lb" cx="403.7" cy="1312.3" r="1.55"/><circle class="lb" cx="396.9" cy="1312.8" r="1.55"/><circle class="lb" cx="379.5" cy="1316.0" r="1.55"/><circle class="lb" cx="378.0" cy="1321.0" r="1.55"/><circle class="lb" cx="388.0" cy="1319.7" r="1.55"/><circle class="lb" cx="383.0" cy="1329.2" r="1.55"/><circle class="lb" cx="456.0" cy="1253.2" r="1.55"/><circle class="lb" cx="500.9" cy="1248.7" r="1.55"/><circle class="g" cx="446.0" cy="1237.5" r="1.6"/><circle class="g" cx="424.8" cy="1251.2" r="1.6"/><circle class="g" cx="426.8" cy="1254.4" r="1.6"/><circle class="g" cx="409.9" cy="1256.2" r="1.6"/><circle class="g" cx="407.4" cy="1258.7" r="1.6"/><circle class="g" cx="436.1" cy="1266.1" r="1.6"/><circle class="g" cx="401.2" cy="1271.1" r="1.6"/><circle class="g" cx="403.7" cy="1278.6" r="1.6"/><circle class="g" cx="380.0" cy="1287.3" r="1.6"/><circle class="g" cx="377.5" cy="1295.3" r="1.6"/><circle class="g" cx="396.9" cy="1317.2" r="1.6"/><circle class="o" cx="374.5" cy="1242.5" r="1.75"/><circle class="o" cx="370.0" cy="1249.4" r="1.75"/><circle class="lo" cx="394.9" cy="1243.7" r="1.8"/><circle class="lo" cx="403.7" cy="1243.7" r="1.8"/><circle class="lo" cx="392.4" cy="1258.7" r="1.8"/><circle class="lo" cx="387.5" cy="1259.9" r="1.8"/><circle class="lo" cx="375.0" cy="1226.2" r="1.8"/><circle class="b" cx="416.9" cy="1347.5" r="1.75"/><circle class="b" cx="424.1" cy="1345.0" r="1.75"/><circle class="b" cx="401.9" cy="1349.2" r="1.75"/><circle class="b" cx="454.0" cy="1348.0" r="1.75"/><circle class="b" cx="462.2" cy="1354.4" r="1.75"/><circle class="b" cx="396.7" cy="1363.2" r="1.75"/><circle class="b" cx="429.1" cy="1366.9" r="1.75"/><circle class="b" cx="374.5" cy="1372.4" r="1.75"/><circle class="b" cx="421.6" cy="1379.4" r="1.75"/><circle class="b" cx="373.0" cy="1387.4" r="1.75"/><circle class="b" cx="372.0" cy="1340.5" r="1.75"/><circle class="b" cx="355.8" cy="1348.7" r="1.75"/><circle class="b" cx="364.0" cy="1350.0" r="1.75"/><circle class="b" cx="332.1" cy="1359.9" r="1.75"/><circle class="b" cx="365.5" cy="1356.9" r="1.75"/><circle class="b" cx="367.0" cy="1363.7" r="1.75"/><circle class="b" cx="327.6" cy="1369.9" r="1.75"/><circle class="b" cx="328.4" cy="1372.4" r="1.75"/><circle class="b" cx="335.1" cy="1372.9" r="1.75"/><circle class="b" cx="356.6" cy="1372.4" r="1.75"/><circle class="b" cx="342.9" cy="1377.4" r="1.75"/><circle class="b" cx="367.0" cy="1379.9" r="1.75"/><circle class="b" cx="325.9" cy="1378.6" r="1.75"/><circle class="b" cx="338.4" cy="1391.1" r="1.75"/><circle class="b" cx="342.1" cy="1388.6" r="1.75"/><circle class="b" cx="347.1" cy="1388.1" r="1.75"/><circle class="b" cx="350.1" cy="1386.9" r="1.75"/><circle class="b" cx="331.4" cy="1409.8" r="1.75"/><circle class="b" cx="338.9" cy="1407.3" r="1.75"/><circle class="b" cx="354.1" cy="1409.0" r="1.75"/><circle class="b" cx="329.6" cy="1416.5" r="1.75"/><circle class="b" cx="335.1" cy="1413.5" r="1.75"/><circle class="b" cx="342.6" cy="1413.5" r="1.75"/><circle class="lb" cx="360.8" cy="1345.5" r="1.55"/><circle class="lb" cx="335.4" cy="1350.5" r="1.55"/><circle class="lb" cx="343.9" cy="1335.0" r="1.55"/><circle class="lb" cx="360.8" cy="1336.2" r="1.55"/><circle class="g" cx="209.5" cy="1428.5" r="1.6"/><circle class="g" cx="215.5" cy="1428.5" r="1.6"/><circle class="g" cx="227.4" cy="1428.5" r="1.6"/><circle class="g" cx="236.2" cy="1428.5" r="1.6"/><circle class="g" cx="247.4" cy="1428.5" r="1.6"/><circle class="g" cx="259.8" cy="1428.5" r="1.6"/><circle class="g" cx="267.3" cy="1428.5" r="1.6"/><circle class="g" cx="296.7" cy="1428.5" r="1.6"/><circle class="gd" cx="211.2" cy="1422.3" r="1.6"/><circle class="g" cx="246.9" cy="1422.3" r="1.6"/><circle class="g" cx="264.8" cy="1422.3" r="1.6"/><circle class="g" cx="204.5" cy="1417.8" r="1.6"/><circle class="g" cx="210.5" cy="1417.8" r="1.6"/><circle class="g" cx="217.5" cy="1417.8" r="1.6"/><circle class="gd" cx="229.9" cy="1417.8" r="1.6"/><circle class="gd" cx="237.4" cy="1416.3" r="1.6"/><circle class="g" cx="260.6" cy="1416.3" r="1.6"/><circle class="g" cx="266.8" cy="1416.3" r="1.6"/><circle class="g" cx="292.2" cy="1417.8" r="1.6"/><circle class="g" cx="200.0" cy="1408.5" r="1.6"/><circle class="g" cx="208.0" cy="1404.3" r="1.6"/><circle class="g" cx="218.7" cy="1407.3" r="1.6"/><circle class="g" cx="228.7" cy="1406.1" r="1.6"/><circle class="gd" cx="234.4" cy="1407.3" r="1.6"/><circle class="g" cx="234.9" cy="1408.8" r="1.6"/><circle class="g" cx="243.6" cy="1406.6" r="1.6"/><circle class="g" cx="251.1" cy="1406.8" r="1.6"/><circle class="g" cx="257.8" cy="1409.8" r="1.6"/><circle class="g" cx="261.1" cy="1407.3" r="1.6"/><circle class="g" cx="273.5" cy="1401.8" r="1.6"/><circle class="gd" cx="307.2" cy="1407.3" r="1.6"/><circle class="g" cx="309.7" cy="1409.8" r="1.6"/><circle class="g" cx="306.0" cy="1402.3" r="1.6"/><circle class="g" cx="203.0" cy="1398.6" r="1.6"/><circle class="g" cx="216.2" cy="1393.6" r="1.6"/><circle class="g" cx="207.5" cy="1394.8" r="1.6"/><circle class="g" cx="232.4" cy="1394.8" r="1.6"/><circle class="g" cx="229.4" cy="1397.3" r="1.6"/><circle class="g" cx="239.9" cy="1398.6" r="1.6"/><circle class="g" cx="245.6" cy="1398.6" r="1.6"/><circle class="g" cx="251.9" cy="1398.6" r="1.6"/><circle class="g" cx="254.4" cy="1393.6" r="1.6"/><circle class="g" cx="233.7" cy="1402.3" r="1.6"/><circle class="g" cx="210.0" cy="1391.1" r="1.6"/><circle class="g" cx="215.0" cy="1382.4" r="1.6"/><circle class="g" cx="231.9" cy="1389.8" r="1.6"/><circle class="g" cx="242.9" cy="1387.9" r="1.6"/><circle class="g" cx="246.1" cy="1391.8" r="1.6"/><circle class="g" cx="253.6" cy="1391.8" r="1.6"/><circle class="g" cx="276.0" cy="1384.9" r="1.6"/><circle class="g" cx="277.3" cy="1388.6" r="1.6"/><circle class="g" cx="298.5" cy="1388.6" r="1.6"/><circle class="g" cx="304.7" cy="1379.9" r="1.6"/><circle class="g" cx="202.0" cy="1373.6" r="1.6"/><circle class="g" cx="215.5" cy="1374.9" r="1.6"/><circle class="g" cx="210.5" cy="1371.9" r="1.6"/><circle class="g" cx="212.5" cy="1370.4" r="1.6"/><circle class="g" cx="237.4" cy="1374.9" r="1.6"/><circle class="g" cx="246.1" cy="1375.4" r="1.6"/><circle class="g" cx="259.8" cy="1372.9" r="1.6"/><circle class="g" cx="259.8" cy="1382.4" r="1.6"/><circle class="g" cx="277.3" cy="1372.4" r="1.6"/><circle class="g" cx="274.8" cy="1376.1" r="1.6"/><circle class="g" cx="282.3" cy="1376.1" r="1.6"/><circle class="g" cx="304.7" cy="1372.4" r="1.6"/><circle class="g" cx="308.5" cy="1371.9" r="1.6"/><circle class="g" cx="319.7" cy="1379.9" r="1.6"/><circle class="g" cx="299.7" cy="1394.8" r="1.6"/><circle class="g" cx="234.4" cy="1365.4" r="1.6"/><circle class="gd" cx="241.1" cy="1365.4" r="1.6"/><circle class="g" cx="253.6" cy="1364.4" r="1.6"/><circle class="g" cx="259.8" cy="1367.4" r="1.6"/><circle class="g" cx="279.3" cy="1366.9" r="1.6"/><circle class="g" cx="283.5" cy="1366.2" r="1.6"/><circle class="gd" cx="291.7" cy="1367.4" r="1.6"/><circle class="g" cx="307.7" cy="1364.9" r="1.6"/><circle class="g" cx="311.4" cy="1366.2" r="1.6"/><circle class="g" cx="222.9" cy="1359.9" r="1.6"/><circle class="g" cx="264.8" cy="1359.2" r="1.6"/><circle class="g" cx="269.3" cy="1360.4" r="1.6"/><circle class="g" cx="310.9" cy="1359.9" r="1.6"/><circle class="g" cx="313.4" cy="1357.9" r="1.6"/><circle class="g" cx="320.4" cy="1359.2" r="1.6"/><circle class="g" cx="226.2" cy="1348.0" r="1.6"/><circle class="g" cx="229.9" cy="1349.5" r="1.6"/><circle class="g" cx="238.6" cy="1347.0" r="1.6"/><circle class="g" cx="251.1" cy="1347.5" r="1.6"/><circle class="g" cx="253.6" cy="1350.5" r="1.6"/><circle class="g" cx="268.6" cy="1350.5" r="1.6"/><circle class="g" cx="272.3" cy="1351.2" r="1.6"/><circle class="g" cx="274.3" cy="1350.0" r="1.6"/><circle class="g" cx="286.0" cy="1347.5" r="1.6"/><circle class="g" cx="289.3" cy="1350.5" r="1.6"/><circle class="g" cx="291.0" cy="1354.4" r="1.6"/><circle class="g" cx="296.0" cy="1350.5" r="1.6"/><circle class="g" cx="299.7" cy="1346.2" r="1.6"/><circle class="g" cx="219.9" cy="1337.0" r="1.6"/><circle class="g" cx="272.3" cy="1343.7" r="1.6"/><circle class="g" cx="274.3" cy="1345.5" r="1.6"/><circle class="g" cx="276.0" cy="1338.7" r="1.6"/><circle class="g" cx="288.5" cy="1339.5" r="1.6"/><circle class="g" cx="299.2" cy="1339.5" r="1.6"/><circle class="g" cx="319.7" cy="1336.2" r="1.6"/><circle class="g" cx="322.2" cy="1338.0" r="1.6"/><circle class="g" cx="340.4" cy="1341.2" r="1.6"/><circle class="o" cx="229.9" cy="1226.2" r="1.75"/><circle class="o" cx="354.6" cy="1236.7" r="1.75"/><circle class="o" cx="363.3" cy="1242.0" r="1.75"/><circle class="o" cx="287.8" cy="1250.7" r="1.75"/><circle class="o" cx="296.7" cy="1250.7" r="1.75"/><circle class="o" cx="309.7" cy="1249.2" r="1.75"/><circle class="o" cx="203.7" cy="1254.4" r="1.75"/><circle class="o" cx="231.2" cy="1256.2" r="1.75"/><circle class="o" cx="259.3" cy="1263.1" r="1.75"/><circle class="o" cx="271.1" cy="1267.4" r="1.75"/><circle class="o" cx="290.3" cy="1258.7" r="1.75"/><circle class="o" cx="291.0" cy="1264.9" r="1.75"/><circle class="o" cx="217.0" cy="1271.1" r="1.75"/><circle class="o" cx="303.5" cy="1272.4" r="1.75"/><circle class="o" cx="315.9" cy="1274.9" r="1.75"/><circle class="o" cx="325.9" cy="1276.6" r="1.75"/><circle class="o" cx="273.5" cy="1277.4" r="1.75"/><circle class="o" cx="228.7" cy="1283.6" r="1.75"/><circle class="o" cx="235.4" cy="1286.1" r="1.75"/><circle class="o" cx="225.7" cy="1290.3" r="1.75"/><circle class="o" cx="279.3" cy="1287.3" r="1.75"/><circle class="o" cx="279.3" cy="1291.8" r="1.75"/><circle class="o" cx="304.7" cy="1288.1" r="1.75"/><circle class="o" cx="266.8" cy="1308.0" r="1.75"/><circle class="o" cx="274.0" cy="1307.3" r="1.75"/><circle class="o" cx="343.4" cy="1259.4" r="1.75"/><circle class="o" cx="349.6" cy="1256.9" r="1.75"/><circle class="o" cx="364.0" cy="1256.2" r="1.75"/><circle class="o" cx="378.3" cy="1249.4" r="1.75"/><circle class="lo" cx="347.1" cy="1287.3" r="1.8"/><circle class="lo" cx="339.6" cy="1292.3" r="1.8"/><circle class="g" cx="342.9" cy="1301.0" r="1.6"/><circle class="g" cx="347.8" cy="1312.8" r="1.6"/><circle class="g" cx="359.6" cy="1316.7" r="1.6"/><circle class="g" cx="335.9" cy="1324.7" r="1.6"/><circle class="g" cx="329.6" cy="1324.7" r="1.6"/><circle class="g" cx="325.9" cy="1319.7" r="1.6"/><circle class="g" cx="315.2" cy="1323.5" r="1.6"/><circle class="g" cx="307.2" cy="1319.7" r="1.6"/><circle class="g" cx="287.3" cy="1324.7" r="1.6"/><circle class="g" cx="276.0" cy="1327.2" r="1.6"/><circle class="g" cx="261.8" cy="1329.2" r="1.6"/><circle class="g" cx="241.1" cy="1333.0" r="1.6"/><circle class="g" cx="231.9" cy="1331.0" r="1.6"/><circle class="g" cx="217.5" cy="1326.0" r="1.6"/><circle class="g" cx="298.5" cy="1331.0" r="1.6"/><circle class="g" cx="295.2" cy="1333.5" r="1.6"/><circle class="g" cx="301.7" cy="1338.4" r="1.6"/><circle class="g" cx="312.7" cy="1342.2" r="1.6"/><circle class="g" cx="349.1" cy="1323.5" r="1.6"/><circle class="g" cx="349.6" cy="1329.7" r="1.6"/><circle class="g" cx="378.3" cy="1309.8" r="1.6"/><circle class="lb" cx="355.8" cy="1319.7" r="1.55"/><circle class="lb" cx="363.3" cy="1331.0" r="1.55"/><circle class="lb" cx="357.1" cy="1332.7" r="1.55"/><circle class="lb" cx="338.4" cy="1339.7" r="1.55"/><circle class="lb" cx="378.3" cy="1339.7" r="1.55"/><circle class="o" cx="152.7" cy="1269.9" r="1.75"/><circle class="o" cx="182.2" cy="1271.1" r="1.75"/><circle class="o" cx="156.7" cy="1276.9" r="1.75"/><circle class="o" cx="115.3" cy="1296.6" r="1.75"/><circle class="o" cx="124.8" cy="1296.6" r="1.75"/><circle class="o" cx="173.9" cy="1311.8" r="1.75"/><circle class="g" cx="164.7" cy="1253.7" r="1.6"/><circle class="g" cx="143.5" cy="1312.8" r="1.6"/><circle class="g" cx="139.3" cy="1300.3" r="1.6"/><circle class="g" cx="125.3" cy="1317.7" r="1.6"/><circle class="g" cx="137.3" cy="1318.5" r="1.6"/><circle class="g" cx="147.8" cy="1317.7" r="1.6"/><circle class="g" cx="152.2" cy="1319.2" r="1.6"/><circle class="g" cx="125.3" cy="1327.2" r="1.6"/><circle class="g" cx="128.6" cy="1328.5" r="1.6"/><circle class="gd" cx="139.3" cy="1330.2" r="1.6"/><circle class="g" cx="106.9" cy="1334.7" r="1.6"/><circle class="g" cx="147.3" cy="1338.4" r="1.6"/><circle class="g" cx="167.7" cy="1335.9" r="1.6"/><circle class="g" cx="128.6" cy="1340.2" r="1.6"/><circle class="g" cx="156.0" cy="1342.7" r="1.6"/><circle class="g" cx="239.5" cy="1326.0" r="1.6"/><circle class="g" cx="119.8" cy="1344.7" r="1.6"/><circle class="g" cx="196.6" cy="1344.7" r="1.6"/><circle class="o" cx="360.8" cy="1211.7" r="1.75"/><circle class="o" cx="339.1" cy="1230.9" r="1.75"/><circle class="o" cx="354.1" cy="1230.9" r="1.75"/><circle class="g" cx="106.1" cy="1428.0" r="1.6"/><circle class="g" cx="111.6" cy="1428.0" r="1.6"/><circle class="g" cx="117.8" cy="1428.0" r="1.6"/><circle class="g" cx="119.8" cy="1428.0" r="1.6"/><circle class="gd" cx="122.3" cy="1428.0" r="1.6"/><circle class="gd" cx="124.3" cy="1428.0" r="1.6"/><circle class="g" cx="127.3" cy="1428.0" r="1.6"/><circle class="g" cx="146.8" cy="1428.0" r="1.6"/><circle class="g" cx="151.0" cy="1428.0" r="1.6"/><circle class="g" cx="152.7" cy="1428.0" r="1.6"/><circle class="gd" cx="161.0" cy="1428.0" r="1.6"/><circle class="g" cx="163.5" cy="1428.0" r="1.6"/><circle class="gd" cx="166.0" cy="1428.0" r="1.6"/><circle class="gd" cx="167.7" cy="1428.0" r="1.6"/><circle class="g" cx="173.4" cy="1428.0" r="1.6"/><circle class="g" cx="183.9" cy="1428.0" r="1.6"/><circle class="g" cx="187.6" cy="1428.0" r="1.6"/><circle class="g" cx="190.1" cy="1428.0" r="1.6"/><circle class="g" cx="192.9" cy="1428.0" r="1.6"/><circle class="g" cx="195.9" cy="1428.0" r="1.6"/><circle class="g" cx="106.1" cy="1422.3" r="1.6"/><circle class="gd" cx="107.9" cy="1422.3" r="1.6"/><circle class="g" cx="109.9" cy="1422.3" r="1.6"/><circle class="g" cx="112.4" cy="1422.3" r="1.6"/><circle class="g" cx="114.4" cy="1422.3" r="1.6"/><circle class="g" cx="117.8" cy="1422.3" r="1.6"/><circle class="gd" cx="123.6" cy="1422.3" r="1.6"/><circle class="g" cx="125.3" cy="1422.3" r="1.6"/><circle class="g" cx="132.3" cy="1422.3" r="1.6"/><circle class="g" cx="139.3" cy="1422.3" r="1.6"/><circle class="gd" cx="147.3" cy="1422.3" r="1.6"/><circle class="g" cx="153.5" cy="1422.3" r="1.6"/><circle class="g" cx="154.7" cy="1422.3" r="1.6"/><circle class="g" cx="167.2" cy="1422.3" r="1.6"/><circle class="g" cx="173.4" cy="1422.3" r="1.6"/><circle class="g" cx="185.9" cy="1422.3" r="1.6"/><circle class="g" cx="218.3" cy="1422.3" r="1.6"/><circle class="g" cx="106.1" cy="1416.3" r="1.6"/><circle class="gd" cx="108.6" cy="1416.3" r="1.6"/><circle class="g" cx="111.1" cy="1416.3" r="1.6"/><circle class="g" cx="112.9" cy="1416.3" r="1.6"/><circle class="g" cx="118.6" cy="1416.3" r="1.6"/><circle class="gd" cx="120.3" cy="1416.3" r="1.6"/><circle class="g" cx="123.6" cy="1416.3" r="1.6"/><circle class="g" cx="125.3" cy="1416.3" r="1.6"/><circle class="g" cx="128.6" cy="1416.3" r="1.6"/><circle class="g" cx="132.3" cy="1416.3" r="1.6"/><circle class="g" cx="147.3" cy="1416.3" r="1.6"/><circle class="g" cx="153.5" cy="1416.3" r="1.6"/><circle class="g" cx="156.0" cy="1416.3" r="1.6"/><circle class="g" cx="162.2" cy="1416.3" r="1.6"/><circle class="g" cx="174.7" cy="1416.3" r="1.6"/><circle class="gd" cx="177.2" cy="1416.3" r="1.6"/><circle class="g" cx="179.7" cy="1416.3" r="1.6"/><circle class="g" cx="183.4" cy="1416.3" r="1.6"/><circle class="g" cx="187.2" cy="1416.3" r="1.6"/><circle class="gd" cx="106.1" cy="1408.5" r="1.6"/><circle class="g" cx="107.9" cy="1409.5" r="1.6"/><circle class="g" cx="109.9" cy="1408.8" r="1.6"/><circle class="g" cx="112.4" cy="1409.5" r="1.6"/><circle class="g" cx="116.8" cy="1409.8" r="1.6"/><circle class="g" cx="119.8" cy="1408.0" r="1.6"/><circle class="g" cx="126.1" cy="1407.8" r="1.6"/><circle class="g" cx="152.2" cy="1410.3" r="1.6"/><circle class="g" cx="154.7" cy="1408.5" r="1.6"/><circle class="g" cx="158.5" cy="1408.5" r="1.6"/><circle class="g" cx="187.2" cy="1410.8" r="1.6"/><circle class="g" cx="194.6" cy="1409.3" r="1.6"/><circle class="gd" cx="196.6" cy="1410.3" r="1.6"/><circle class="g" cx="219.6" cy="1409.8" r="1.6"/><circle class="g" cx="227.5" cy="1408.3" r="1.6"/><circle class="g" cx="108.6" cy="1407.8" r="1.6"/><circle class="g" cx="112.9" cy="1406.8" r="1.6"/><circle class="g" cx="129.3" cy="1407.6" r="1.6"/><circle class="g" cx="137.3" cy="1407.3" r="1.6"/><circle class="g" cx="151.0" cy="1405.6" r="1.6"/><circle class="g" cx="157.7" cy="1407.6" r="1.6"/><circle class="g" cx="173.4" cy="1407.1" r="1.6"/><circle class="g" cx="106.1" cy="1401.3" r="1.6"/><circle class="g" cx="109.9" cy="1400.3" r="1.6"/><circle class="g" cx="114.4" cy="1402.8" r="1.6"/><circle class="g" cx="121.8" cy="1401.8" r="1.6"/><circle class="g" cx="126.1" cy="1402.6" r="1.6"/><circle class="g" cx="133.5" cy="1403.1" r="1.6"/><circle class="g" cx="136.0" cy="1402.6" r="1.6"/><circle class="g" cx="140.3" cy="1403.1" r="1.6"/><circle class="g" cx="146.0" cy="1401.6" r="1.6"/><circle class="g" cx="158.5" cy="1402.8" r="1.6"/><circle class="g" cx="162.2" cy="1401.6" r="1.6"/><circle class="g" cx="169.7" cy="1403.1" r="1.6"/><circle class="g" cx="178.4" cy="1403.1" r="1.6"/><circle class="g" cx="183.4" cy="1400.6" r="1.6"/><circle class="g" cx="185.9" cy="1400.8" r="1.6"/><circle class="g" cx="198.4" cy="1401.1" r="1.6"/><circle class="g" cx="202.6" cy="1403.3" r="1.6"/><circle class="g" cx="209.1" cy="1401.6" r="1.6"/><circle class="g" cx="229.5" cy="1402.3" r="1.6"/><circle class="gd" cx="109.9" cy="1396.1" r="1.6"/><circle class="g" cx="111.9" cy="1395.8" r="1.6"/><circle class="g" cx="116.8" cy="1395.6" r="1.6"/><circle class="g" cx="139.8" cy="1396.3" r="1.6"/><circle class="g" cx="143.5" cy="1396.3" r="1.6"/><circle class="g" cx="146.8" cy="1397.3" r="1.6"/><circle class="g" cx="152.7" cy="1396.6" r="1.6"/><circle class="g" cx="167.7" cy="1397.3" r="1.6"/><circle class="g" cx="170.9" cy="1397.1" r="1.6"/><circle class="g" cx="193.4" cy="1397.6" r="1.6"/><circle class="g" cx="194.6" cy="1396.6" r="1.6"/><circle class="g" cx="233.3" cy="1397.6" r="1.6"/><circle class="g" cx="108.6" cy="1391.1" r="1.6"/><circle class="g" cx="113.6" cy="1390.1" r="1.6"/><circle class="g" cx="116.1" cy="1390.6" r="1.6"/><circle class="g" cx="121.1" cy="1389.1" r="1.6"/><circle class="g" cx="127.3" cy="1390.8" r="1.6"/><circle class="g" cx="131.1" cy="1390.1" r="1.6"/><circle class="g" cx="132.8" cy="1389.1" r="1.6"/><circle class="g" cx="136.0" cy="1388.6" r="1.6"/><circle class="g" cx="141.8" cy="1390.8" r="1.6"/><circle class="g" cx="146.0" cy="1391.3" r="1.6"/><circle class="g" cx="157.2" cy="1388.6" r="1.6"/><circle class="g" cx="169.7" cy="1390.8" r="1.6"/><circle class="g" cx="182.7" cy="1389.6" r="1.6"/><circle class="g" cx="185.9" cy="1388.9" r="1.6"/><circle class="g" cx="191.6" cy="1389.4" r="1.6"/><circle class="g" cx="195.9" cy="1390.6" r="1.6"/><circle class="g" cx="211.6" cy="1388.6" r="1.6"/><circle class="g" cx="216.6" cy="1390.1" r="1.6"/><circle class="g" cx="234.5" cy="1388.6" r="1.6"/><circle class="g" cx="133.5" cy="1383.1" r="1.6"/><circle class="g" cx="134.8" cy="1381.9" r="1.6"/><circle class="g" cx="148.5" cy="1383.6" r="1.6"/><circle class="g" cx="169.7" cy="1383.9" r="1.6"/><circle class="gd" cx="170.9" cy="1382.4" r="1.6"/><circle class="g" cx="182.2" cy="1383.9" r="1.6"/><circle class="g" cx="195.1" cy="1381.9" r="1.6"/><circle class="gd" cx="197.1" cy="1381.1" r="1.6"/><circle class="g" cx="199.1" cy="1382.6" r="1.6"/><circle class="g" cx="106.1" cy="1375.1" r="1.6"/><circle class="g" cx="114.8" cy="1375.9" r="1.6"/><circle class="g" cx="127.3" cy="1376.4" r="1.6"/><circle class="g" cx="159.2" cy="1375.1" r="1.6"/><circle class="g" cx="187.2" cy="1374.9" r="1.6"/><circle class="g" cx="196.6" cy="1377.1" r="1.6"/><circle class="g" cx="238.3" cy="1377.6" r="1.6"/><circle class="gd" cx="139.8" cy="1373.1" r="1.6"/><circle class="g" cx="169.7" cy="1371.6" r="1.6"/><circle class="g" cx="175.9" cy="1371.9" r="1.6"/><circle class="g" cx="179.2" cy="1371.9" r="1.6"/><circle class="gd" cx="185.9" cy="1372.4" r="1.6"/><circle class="gd" cx="188.4" cy="1372.1" r="1.6"/><circle class="g" cx="189.6" cy="1372.1" r="1.6"/><circle class="g" cx="194.6" cy="1372.1" r="1.6"/><circle class="g" cx="198.4" cy="1373.1" r="1.6"/><circle class="g" cx="123.6" cy="1364.2" r="1.6"/><circle class="g" cx="156.7" cy="1364.4" r="1.6"/><circle class="g" cx="170.9" cy="1366.4" r="1.6"/><circle class="g" cx="176.7" cy="1364.9" r="1.6"/><circle class="gd" cx="180.2" cy="1365.2" r="1.6"/><circle class="g" cx="182.2" cy="1363.4" r="1.6"/><circle class="g" cx="195.9" cy="1364.7" r="1.6"/><circle class="g" cx="183.4" cy="1361.4" r="1.6"/><circle class="g" cx="109.4" cy="1357.2" r="1.6"/><circle class="g" cx="131.1" cy="1358.9" r="1.6"/><circle class="g" cx="134.8" cy="1359.2" r="1.6"/><circle class="g" cx="223.3" cy="1357.4" r="1.6"/><circle class="gd" cx="116.1" cy="1354.2" r="1.6"/><circle class="gd" cx="129.8" cy="1353.7" r="1.6"/><circle class="g" cx="166.0" cy="1354.2" r="1.6"/><circle class="g" cx="182.9" cy="1353.2" r="1.6"/><circle class="gd" cx="111.1" cy="1348.0" r="1.6"/><circle class="g" cx="112.9" cy="1348.2" r="1.6"/><circle class="g" cx="157.7" cy="1348.0" r="1.6"/><circle class="g" cx="197.1" cy="1349.0" r="1.6"/><circle class="g" cx="199.6" cy="1346.7" r="1.6"/><circle class="g" cx="106.9" cy="1338.2" r="1.6"/><circle class="g" cx="136.8" cy="1339.0" r="1.6"/><circle class="g" cx="167.2" cy="1338.5" r="1.6"/><circle class="g" cx="219.6" cy="1339.5" r="1.6"/>
<path class="ll" d="M579.9 1203.0L587.4 1208.0"/><path class="ll" d="M597.8 1212.2L584.4 1219.7"/><path class="ll" d="M540.0 1237.2L545.0 1233.4"/><path class="ll" d="M522.6 1235.5L535.8 1240.0"/><path class="ll" d="M542.0 1236.2L536.3 1240.5"/><path class="ll" d="M524.6 1267.9L542.0 1272.9"/><path class="ll" d="M523.8 1297.3L529.6 1306.8"/><path class="ll" d="M485.2 1323.5L494.2 1314.3"/><path class="ll" d="M370.0 1249.9L375.0 1248.7"/><path class="ll" d="M462.2 1355.4L464.2 1366.9"/><path class="ll" d="M312.2 1394.8L334.6 1413.5"/><path class="ll" d="M281.0 1241.2L287.3 1249.9"/><path class="ll" d="M325.9 1276.6L369.5 1276.6"/><path class="ll" d="M379.0 1248.7L364.5 1255.4"/><path class="ll" d="M213.7 1301.0L224.9 1291.1"/><path class="ll" d="M279.8 1291.8L291.0 1302.3"/><path class="ll" d="M304.7 1288.6L342.1 1307.3"/><path class="ll" d="M256.8 1314.8L266.8 1308.0"/><path class="ll" d="M274.8 1308.5L283.5 1314.8"/><path class="ll" d="M134.8 1249.9L152.2 1269.4"/><path class="ll" d="M212.6 1302.8L224.5 1291.8"/>
<rect x="70" y="1011" width="202" height="80" fill="#fff"/>
<text x="73" y="1039.5" font-size="26" fill="#111">reflected amnion</text>
<text x="73" y="1077.8" font-size="26" fill="#111">R=0.73, p&lt;0.001</text>
<text transform="translate(68.7,1232) rotate(-90)" font-size="15.9" fill="#1a1a1a" stroke="#1a1a1a" stroke-width=".2" text-anchor="middle">protein</text>
<text x="392.5" y="1466.4" font-size="16.3" fill="#111" text-anchor="middle">tissue</text>
<text transform="translate(682.1,1030.9) scale(1,.9)" font-size="8.55" fill="#1a1a1a" stroke="#1a1a1a" stroke-width="0.3" text-anchor="end">hsa-miR-21-5p</text><text transform="translate(678.9,1072.8) scale(1,.9)" font-size="8.55" fill="#1a1a1a" stroke="#1a1a1a" stroke-width="0.3" text-anchor="end">hsa-miR-221-3p</text><text transform="translate(586.4,1109.7) scale(1,.9)" font-size="8.55" fill="#1a1a1a" stroke="#1a1a1a" stroke-width="0.3" text-anchor="end">hsa-miR-320a-3p</text><text transform="translate(564.2,1150.4) scale(1,.9)" font-size="8.55" fill="#1a1a1a" stroke="#1a1a1a" stroke-width="0.3" text-anchor="end">hsa-miR-660-5p</text><text transform="translate(678.9,1155.7) scale(1,.9)" font-size="8.55" fill="#1a1a1a" stroke="#1a1a1a" stroke-width="0.3" text-anchor="end">hsa-miR-203a-3p</text><text transform="translate(677.9,1190.6) scale(1,.9)" font-size="8.55" fill="#1a1a1a" stroke="#1a1a1a" stroke-width="0.3" text-anchor="end">hsa-miR-103a-3p</text><text transform="translate(712.0,1203.5) scale(1,.9)" font-size="8.55" fill="#1a1a1a" stroke="#1a1a1a" stroke-width="0.3" text-anchor="end">hsa-miR-26a-5p</text><text transform="translate(594.4,1199.8) scale(1,.9)" font-size="8.55" fill="#1a1a1a" stroke="#1a1a1a" stroke-width="0.3" text-anchor="end">hsa-miR-200c-3p</text><text transform="translate(666.4,1212.2) scale(1,.9)" font-size="8.55" fill="#1a1a1a" stroke="#1a1a1a" stroke-width="0.3" text-anchor="end">hsa-miR-193b-3p</text><text transform="translate(583.9,1214.2) scale(1,.9)" font-size="8.55" fill="#1a1a1a" stroke="#1a1a1a" stroke-width="0.3" text-anchor="end">hsa-miR-376c-3p</text><text transform="translate(652.2,1226.0) scale(1,.9)" font-size="8.55" fill="#1a1a1a" stroke="#1a1a1a" stroke-width="0.3" text-anchor="end">hsa-let-7f-5p</text><text transform="translate(585.9,1230.9) scale(1,.9)" font-size="8.55" fill="#1a1a1a" stroke="#1a1a1a" stroke-width="0.3" text-anchor="end">hsa-miR-93-5p</text><text transform="translate(627.3,1244.9) scale(1,.9)" font-size="8.55" fill="#1a1a1a" stroke="#1a1a1a" stroke-width="0.3" text-anchor="end">hsa-miR-26b-5p</text><text transform="translate(556.2,1250.7) scale(1,.9)" font-size="8.55" fill="#1a1a1a" stroke="#1a1a1a" stroke-width="0.3" text-anchor="end">hsa-miR-141-3p</text><text transform="translate(602.3,1262.9) scale(1,.9)" font-size="8.55" fill="#1a1a1a" stroke="#1a1a1a" stroke-width="0.3" text-anchor="end">hsa-miR-98-5p</text><text transform="translate(594.8,1275.6) scale(1,.9)" font-size="8.55" fill="#1a1a1a" stroke="#1a1a1a" stroke-width="0.3" text-anchor="end">hsa-let-7g-5p</text><text transform="translate(591.9,1288.6) scale(1,.9)" font-size="8.55" fill="#1a1a1a" stroke="#1a1a1a" stroke-width="0.3" text-anchor="end">hsa-let-7e-5p</text><text transform="translate(594.8,1301.5) scale(1,.9)" font-size="8.55" fill="#1a1a1a" stroke="#1a1a1a" stroke-width="0.3" text-anchor="end">hsa-miR-365b-3p</text><text transform="translate(565.7,1314.3) scale(1,.9)" font-size="8.55" fill="#1a1a1a" stroke="#1a1a1a" stroke-width="0.3" text-anchor="end">hsa-miR-365a-3p</text><text transform="translate(570.9,1328.0) scale(1,.9)" font-size="8.55" fill="#1a1a1a" stroke="#1a1a1a" stroke-width="0.3" text-anchor="end">hsa-let-7a-5p</text><text transform="translate(518.1,1081.1) scale(1,.9)" font-size="8.55" fill="#1a1a1a" stroke="#1a1a1a" stroke-width="0.3" text-anchor="end">hsa-miR-483-5p</text><text transform="translate(450.3,1155.4) scale(1,.9)" font-size="8.55" fill="#1a1a1a" stroke="#1a1a1a" stroke-width="0.3" text-anchor="end">hsa-miR-423-5p</text><text transform="translate(493.9,1179.8) scale(1,.9)" font-size="8.55" fill="#1a1a1a" stroke="#1a1a1a" stroke-width="0.3" text-anchor="end">hsa-miR-146a-5p</text><text transform="translate(420.9,1196.0) scale(1,.9)" font-size="8.55" fill="#1a1a1a" stroke="#1a1a1a" stroke-width="0.3" text-anchor="end">hsa-miR-10a-5p</text><text transform="translate(489.7,1195.5) scale(1,.9)" font-size="8.55" fill="#1a1a1a" stroke="#1a1a1a" stroke-width="0.3" text-anchor="end">hsa-miR-34a-5p</text><text transform="translate(461.7,1210.3) scale(1,.9)" font-size="8.55" fill="#1a1a1a" stroke="#1a1a1a" stroke-width="0.3" text-anchor="end">hsa-miR-15a-5p</text><text transform="translate(451.0,1223.5) scale(1,.9)" font-size="8.55" fill="#1a1a1a" stroke="#1a1a1a" stroke-width="0.3" text-anchor="end">hsa-miR-193b-5p</text><text transform="translate(429.8,1237.2) scale(1,.9)" font-size="8.55" fill="#1a1a1a" stroke="#1a1a1a" stroke-width="0.3" text-anchor="end">hsa-miR-421</text><text transform="translate(522.1,1237.2) scale(1,.9)" font-size="8.55" fill="#1a1a1a" stroke="#1a1a1a" stroke-width="0.3" text-anchor="end">hsa-miR-376a-3p</text><text transform="translate(430.6,1251.7) scale(1,.9)" font-size="8.55" fill="#1a1a1a" stroke="#1a1a1a" stroke-width="0.3" text-anchor="end">hsa-let-7a-3p</text><text transform="translate(436.1,1250.7) scale(1,.9)" font-size="8.55" fill="#1a1a1a" stroke="#1a1a1a" stroke-width="0.3" text-anchor="start">hsa-miR-487b-3p</text><text transform="translate(406.9,1265.4) scale(1,.9)" font-size="8.55" fill="#1a1a1a" stroke="#1a1a1a" stroke-width="0.3" text-anchor="end">hsa-miR-193a-5p</text><text transform="translate(499.6,1263.6) scale(1,.9)" font-size="8.55" fill="#1a1a1a" stroke="#1a1a1a" stroke-width="0.3" text-anchor="end">hsa-miR-1247-5p</text><text transform="translate(480.4,1276.6) scale(1,.9)" font-size="8.55" fill="#1a1a1a" stroke="#1a1a1a" stroke-width="0.3" text-anchor="end">hsa-miR-151a-5p</text><text transform="translate(370.0,1278.6) scale(1,.9)" font-size="8.55" fill="#1a1a1a" stroke="#1a1a1a" stroke-width="0.3" text-anchor="start">hsa-miR-340-5p</text><text transform="translate(386.2,1284.8) scale(1,.9)" font-size="8.55" fill="#1a1a1a" stroke="#1a1a1a" stroke-width="0.3" text-anchor="end">hsa-miR-16-2-3p</text><text transform="translate(538.3,1276.1) scale(1,.9)" font-size="8.55" fill="#1a1a1a" stroke="#1a1a1a" stroke-width="0.3" text-anchor="end">hsa-let-7b-5p</text><text transform="translate(449.3,1291.8) scale(1,.9)" font-size="8.55" fill="#1a1a1a" stroke="#1a1a1a" stroke-width="0.3" text-anchor="end">hsa-miR-324-5p</text><text transform="translate(528.3,1288.6) scale(1,.9)" font-size="8.55" fill="#1a1a1a" stroke="#1a1a1a" stroke-width="0.3" text-anchor="end">hsa-miR-199b-5p</text><text transform="translate(502.1,1301.5) scale(1,.9)" font-size="8.55" fill="#1a1a1a" stroke="#1a1a1a" stroke-width="0.3" text-anchor="end">hsa-miR-218-5p</text><text transform="translate(402.4,1309.8) scale(1,.9)" font-size="8.55" fill="#1a1a1a" stroke="#1a1a1a" stroke-width="0.3" text-anchor="end">hsa-miR-22-5p</text><text transform="translate(514.6,1329.7) scale(1,.9)" font-size="8.55" fill="#1a1a1a" stroke="#1a1a1a" stroke-width="0.3" text-anchor="end">hsa-miR-31-5p</text><text transform="translate(542.0,1344.5) scale(1,.9)" font-size="8.55" fill="#1a1a1a" stroke="#1a1a1a" stroke-width="0.3" text-anchor="end">hsa-miR-135b-5p</text><text transform="translate(460.3,1358.7) scale(1,.9)" font-size="8.55" fill="#1a1a1a" stroke="#1a1a1a" stroke-width="0.3" text-anchor="end">hsa-miR-30b-5p</text><text transform="translate(532.6,1370.7) scale(1,.9)" font-size="8.55" fill="#1a1a1a" stroke="#1a1a1a" stroke-width="0.3" text-anchor="end">hsa-miR-301a-3p</text><text transform="translate(430.6,1374.9) scale(1,.9)" font-size="8.55" fill="#1a1a1a" stroke="#1a1a1a" stroke-width="0.3" text-anchor="end">hsa-miR-454-3p</text><text transform="translate(442.3,1389.1) scale(1,.9)" font-size="8.55" fill="#1a1a1a" stroke="#1a1a1a" stroke-width="0.3" text-anchor="end">hsa-miR-675-5p</text><text transform="translate(413.1,1407.3) scale(1,.9)" font-size="8.55" fill="#1a1a1a" stroke="#1a1a1a" stroke-width="0.3" text-anchor="end">hsa-miR-4286</text><text transform="translate(408.1,1420.5) scale(1,.9)" font-size="8.55" fill="#1a1a1a" stroke="#1a1a1a" stroke-width="0.3" text-anchor="end">hsa-miR-299-5p</text><text transform="translate(332.1,1392.8) scale(1,.9)" font-size="8.55" fill="#1a1a1a" stroke="#1a1a1a" stroke-width="0.3" text-anchor="end">hsa-miR-625-5p</text><text transform="translate(353.3,1405.3) scale(1,.9)" font-size="8.55" fill="#1a1a1a" stroke="#1a1a1a" stroke-width="0.3" text-anchor="end">hsa-miR-106b-5p</text><text transform="translate(340.9,1425.3) scale(1,.9)" font-size="8.55" fill="#1a1a1a" stroke="#1a1a1a" stroke-width="0.3" text-anchor="end">hsa-miR-374a-3p</text><text transform="translate(248.6,1236.2) scale(1,.9)" font-size="8.55" fill="#1a1a1a" stroke="#1a1a1a" stroke-width="0.3" text-anchor="end">hsa-miR-517a-3p</text><text transform="translate(306.5,1238.0) scale(1,.9)" font-size="8.55" fill="#1a1a1a" stroke="#1a1a1a" stroke-width="0.3" text-anchor="end">hsa-let-7d-3p</text><text transform="translate(268.6,1251.2) scale(1,.9)" font-size="8.55" fill="#1a1a1a" stroke="#1a1a1a" stroke-width="0.3" text-anchor="end">hsa-miR-1290</text><text transform="translate(374.0,1251.2) scale(1,.9)" font-size="8.55" fill="#1a1a1a" stroke="#1a1a1a" stroke-width="0.3" text-anchor="end">hsa-miR-145-5p</text><text transform="translate(328.4,1259.4) scale(1,.9)" font-size="8.55" fill="#1a1a1a" stroke="#1a1a1a" stroke-width="0.3" text-anchor="end">hsa-miR-320c</text><text transform="translate(253.1,1265.6) scale(1,.9)" font-size="8.55" fill="#1a1a1a" stroke="#1a1a1a" stroke-width="0.3" text-anchor="end">hsa-miR-1246</text><text transform="translate(276.0,1278.1) scale(1,.9)" font-size="8.55" fill="#1a1a1a" stroke="#1a1a1a" stroke-width="0.3" text-anchor="end">hsa-miR-519a-3p</text><text transform="translate(322.2,1281.8) scale(1,.9)" font-size="8.55" fill="#1a1a1a" stroke="#1a1a1a" stroke-width="0.3" text-anchor="end">hsa-miR-501-3p</text><text transform="translate(286.0,1297.3) scale(1,.9)" font-size="8.55" fill="#1a1a1a" stroke="#1a1a1a" stroke-width="0.3" text-anchor="end">hsa-miR-10b-5p</text><text transform="translate(369.5,1297.3) scale(1,.9)" font-size="8.55" fill="#1a1a1a" stroke="#1a1a1a" stroke-width="0.3" text-anchor="end">hsa-miR-497-5p</text><text transform="translate(340.1,1309.3) scale(1,.9)" font-size="8.55" fill="#1a1a1a" stroke="#1a1a1a" stroke-width="0.3" text-anchor="end">hsa-miR-1180-3p</text><text transform="translate(266.1,1322.2) scale(1,.9)" font-size="8.55" fill="#1a1a1a" stroke="#1a1a1a" stroke-width="0.3" text-anchor="end">hsa-miR-125b-1-3p</text><text transform="translate(324.7,1322.2) scale(1,.9)" font-size="8.55" fill="#1a1a1a" stroke="#1a1a1a" stroke-width="0.3" text-anchor="end">hsa-miR-3615</text><text transform="translate(134.8,1251.7) scale(1,.9)" font-size="8.55" fill="#1a1a1a" stroke="#1a1a1a" stroke-width="0.3" text-anchor="end">hsa-miR-4488</text><text transform="translate(208.3,1249.9) scale(1,.9)" font-size="8.55" fill="#1a1a1a" stroke="#1a1a1a" stroke-width="0.3" text-anchor="end">hsa-miR-619-5p</text><text transform="translate(199.6,1264.9) scale(1,.9)" font-size="8.55" fill="#1a1a1a" stroke="#1a1a1a" stroke-width="0.3" text-anchor="end">hsa-miR-517c-3p</text><text transform="translate(152.7,1279.1) scale(1,.9)" font-size="8.55" fill="#1a1a1a" stroke="#1a1a1a" stroke-width="0.3" text-anchor="end">hsa-miR-524-3p</text><text transform="translate(204.6,1292.3) scale(1,.9)" font-size="8.55" fill="#1a1a1a" stroke="#1a1a1a" stroke-width="0.3" text-anchor="end">hsa-miR-10396b-5p</text><text transform="translate(156.7,1306.0) scale(1,.9)" font-size="8.55" fill="#1a1a1a" stroke="#1a1a1a" stroke-width="0.3" text-anchor="end">hsa-miR-10396a-5p</text><text transform="translate(239.0,1309.8) scale(1,.9)" font-size="8.55" fill="#1a1a1a" stroke="#1a1a1a" stroke-width="0.3" text-anchor="end">hsa-miR-10a-3p</text><text transform="translate(182.7,1322.2) scale(1,.9)" font-size="8.55" fill="#1a1a1a" stroke="#1a1a1a" stroke-width="0.3" text-anchor="end">hsa-miR-512-3p</text><text transform="translate(274.3,1221.7) scale(1,.9)" font-size="8.55" fill="#1a1a1a" stroke="#1a1a1a" stroke-width="0.3" text-anchor="end">hsa-miR-517b-3p</text><text transform="translate(357.1,1209.3) scale(1,.9)" font-size="8.55" fill="#1a1a1a" stroke="#1a1a1a" stroke-width="0.3" text-anchor="end">hsa-miR-451a</text><text transform="translate(373.8,1226.0) scale(1,.9)" font-size="8.55" fill="#1a1a1a" stroke="#1a1a1a" stroke-width="0.3" text-anchor="end">hsa-miR-335-5p</text>
</g>
<!-- panel D -->
<g>
<text transform="translate(-0.7,1512.8) scale(1,1.06)" font-size="35.5" fill="#0c0c0c">D</text>
<rect x="52.3" y="1487.5" width="667.5" height="471.7" fill="#fff" stroke="#7a7a7a" stroke-width="1.5"/>
<path d="M161.5 1491.5V1932M276.2 1491.5V1932M390.8 1491.5V1932M505.5 1491.5V1932M620.2 1491.5V1932M77 1892.4H714.5M77 1815.1H714.5M77 1737.8H714.5M77 1660.5H714.5M77 1583.2H714.5M77 1505.9H714.5" stroke="#f6f6f6" stroke-width="1" fill="none"/>
<path d="M104.2 1491.5V1932M218.9 1491.5V1932M333.5 1491.5V1932M448.2 1491.5V1932M562.8 1491.5V1932M677.5 1491.5V1932M77 1853.8H714.5M77 1776.5H714.5M77 1699.2H714.5M77 1621.9H714.5M77 1544.6H714.5" stroke="#f0f0f0" stroke-width="1" fill="none"/>
<text class="t" x="104.2" y="1942.7">0</text><text class="t" x="218.9" y="1942.7">1</text><text class="t" x="333.5" y="1942.7">2</text><text class="t" x="448.2" y="1942.7">3</text><text class="t" x="562.8" y="1942.7">4</text><text class="t" x="677.5" y="1942.7">5</text><text class="t" x="71" y="1857.0">1</text><text class="t" x="71" y="1779.7">2</text><text class="t" x="71" y="1702.4">3</text><text class="t" x="71" y="1625.1">4</text>
<line x1="102.9" y1="1932.0" x2="714.5" y2="1519.7" stroke="#d0d0d0" stroke-width="1.1" stroke-dasharray="1.5 3 5 3"/>
<circle class="o" cx="685.8" cy="1512.4" r="1.75"/><circle class="o" cx="638.5" cy="1531.6" r="1.75"/><circle class="lo" cx="641.0" cy="1547.8" r="1.8"/><circle class="o" cx="577.4" cy="1586.5" r="1.75"/><circle class="lo" cx="554.5" cy="1605.9" r="1.8"/><circle class="lb" cx="682.9" cy="1592.7" r="1.55"/><circle class="g" cx="637.2" cy="1609.7" r="1.6"/><circle class="b" cx="636.7" cy="1636.9" r="1.75"/><circle class="b" cx="636.7" cy="1644.9" r="1.75"/><circle class="b" cx="591.1" cy="1667.8" r="1.75"/><circle class="b" cx="584.1" cy="1678.5" r="1.75"/><circle class="b" cx="606.6" cy="1681.0" r="1.75"/><circle class="b" cx="561.9" cy="1696.0" r="1.75"/><circle class="b" cx="550.5" cy="1699.7" r="1.75"/><circle class="lb" cx="601.1" cy="1642.4" r="1.55"/><circle class="lb" cx="572.4" cy="1664.3" r="1.55"/><circle class="lb" cx="567.9" cy="1679.3" r="1.55"/><circle class="lb" cx="548.7" cy="1678.5" r="1.55"/><circle class="lb" cx="540.0" cy="1683.5" r="1.55"/><circle class="lb" cx="548.7" cy="1687.3" r="1.55"/><circle class="g" cx="578.6" cy="1621.2" r="1.6"/><circle class="g" cx="603.6" cy="1624.9" r="1.6"/><circle class="g" cx="562.4" cy="1627.4" r="1.6"/><circle class="g" cx="582.4" cy="1627.4" r="1.6"/><circle class="g" cx="557.0" cy="1636.9" r="1.6"/><circle class="g" cx="555.5" cy="1639.4" r="1.6"/><circle class="g" cx="544.5" cy="1642.9" r="1.6"/><circle class="g" cx="564.9" cy="1646.6" r="1.6"/><circle class="g" cx="548.2" cy="1657.8" r="1.6"/><circle class="g" cx="560.7" cy="1658.6" r="1.6"/><circle class="o" cx="533.3" cy="1605.0" r="1.75"/><circle class="o" cx="411.1" cy="1642.4" r="1.75"/><circle class="o" cx="459.8" cy="1639.9" r="1.75"/><circle class="o" cx="479.7" cy="1642.4" r="1.75"/><circle class="o" cx="387.5" cy="1688.5" r="1.75"/><circle class="o" cx="388.0" cy="1691.0" r="1.75"/><circle class="o" cx="380.7" cy="1685.5" r="1.75"/><circle class="o" cx="396.2" cy="1694.2" r="1.75"/><circle class="o" cx="414.9" cy="1694.2" r="1.75"/><circle class="o" cx="374.5" cy="1704.7" r="1.75"/><circle class="lo" cx="509.6" cy="1638.1" r="1.8"/><circle class="lo" cx="484.7" cy="1660.3" r="1.8"/><circle class="lo" cx="479.7" cy="1666.1" r="1.8"/><circle class="lo" cx="462.2" cy="1673.5" r="1.8"/><circle class="lo" cx="457.8" cy="1677.8" r="1.8"/><circle class="lo" cx="427.3" cy="1702.2" r="1.8"/><circle class="lo" cx="434.3" cy="1703.5" r="1.8"/><circle class="lo" cx="423.6" cy="1713.4" r="1.8"/><circle class="g" cx="518.3" cy="1663.6" r="1.6"/><circle class="g" cx="504.6" cy="1668.6" r="1.6"/><circle class="g" cx="497.9" cy="1673.5" r="1.6"/><circle class="g" cx="508.9" cy="1674.8" r="1.6"/><circle class="g" cx="476.7" cy="1681.0" r="1.6"/><circle class="g" cx="489.7" cy="1680.3" r="1.6"/><circle class="gd" cx="496.7" cy="1680.3" r="1.6"/><circle class="g" cx="525.8" cy="1681.0" r="1.6"/><circle class="g" cx="456.0" cy="1699.7" r="1.6"/><circle class="g" cx="453.5" cy="1702.2" r="1.6"/><circle class="g" cx="463.5" cy="1698.5" r="1.6"/><circle class="g" cx="487.2" cy="1694.0" r="1.6"/><circle class="gd" cx="468.5" cy="1704.2" r="1.6"/><circle class="g" cx="476.0" cy="1705.2" r="1.6"/><circle class="g" cx="495.9" cy="1704.2" r="1.6"/><circle class="g" cx="466.0" cy="1714.2" r="1.6"/><circle class="g" cx="463.5" cy="1715.9" r="1.6"/><circle class="g" cx="450.3" cy="1716.7" r="1.6"/><circle class="g" cx="457.3" cy="1719.2" r="1.6"/><circle class="g" cx="477.2" cy="1715.9" r="1.6"/><circle class="g" cx="528.3" cy="1674.8" r="1.6"/><circle class="lb" cx="542.0" cy="1677.3" r="1.55"/><circle class="lb" cx="519.1" cy="1701.0" r="1.55"/><circle class="lb" cx="549.5" cy="1699.7" r="1.55"/><circle class="lb" cx="512.1" cy="1709.7" r="1.55"/><circle class="lb" cx="510.1" cy="1713.4" r="1.55"/><circle class="lb" cx="519.1" cy="1713.4" r="1.55"/><circle class="b" cx="498.4" cy="1731.9" r="1.75"/><circle class="b" cx="504.6" cy="1729.9" r="1.75"/><circle class="b" cx="532.8" cy="1731.2" r="1.75"/><circle class="b" cx="505.9" cy="1743.7" r="1.75"/><circle class="b" cx="519.1" cy="1742.4" r="1.75"/><circle class="b" cx="525.8" cy="1740.4" r="1.75"/><circle class="b" cx="525.8" cy="1749.9" r="1.75"/><circle class="b" cx="479.7" cy="1748.6" r="1.75"/><circle class="b" cx="459.0" cy="1756.9" r="1.75"/><circle class="b" cx="444.0" cy="1759.4" r="1.75"/><circle class="b" cx="468.0" cy="1761.9" r="1.75"/><circle class="b" cx="468.0" cy="1766.1" r="1.75"/><circle class="b" cx="435.3" cy="1766.8" r="1.75"/><circle class="b" cx="436.6" cy="1772.3" r="1.75"/><circle class="b" cx="442.3" cy="1771.1" r="1.75"/><circle class="b" cx="456.0" cy="1771.1" r="1.75"/><circle class="b" cx="508.9" cy="1773.1" r="1.75"/><circle class="b" cx="429.8" cy="1777.3" r="1.75"/><circle class="b" cx="430.6" cy="1779.1" r="1.75"/><circle class="b" cx="445.3" cy="1778.6" r="1.75"/><circle class="b" cx="454.8" cy="1780.6" r="1.75"/><circle class="b" cx="437.3" cy="1786.0" r="1.75"/><circle class="b" cx="414.9" cy="1786.0" r="1.75"/><circle class="b" cx="425.3" cy="1792.3" r="1.75"/><circle class="b" cx="431.1" cy="1791.8" r="1.75"/><circle class="b" cx="421.1" cy="1804.2" r="1.75"/><circle class="b" cx="409.9" cy="1813.5" r="1.75"/><circle class="b" cx="415.6" cy="1811.7" r="1.75"/><circle class="b" cx="427.8" cy="1812.7" r="1.75"/><circle class="b" cx="418.6" cy="1817.2" r="1.75"/><circle class="b" cx="409.9" cy="1827.7" r="1.75"/><circle class="lb" cx="469.7" cy="1734.9" r="1.55"/><circle class="lb" cx="479.7" cy="1736.2" r="1.55"/><circle class="lb" cx="440.6" cy="1757.4" r="1.55"/><circle class="lb" cx="421.6" cy="1764.8" r="1.55"/><circle class="lb" cx="426.8" cy="1764.8" r="1.55"/><circle class="lb" cx="430.6" cy="1763.6" r="1.55"/><circle class="lb" cx="423.6" cy="1771.8" r="1.55"/><circle class="lb" cx="430.6" cy="1771.1" r="1.55"/><circle class="lb" cx="401.2" cy="1776.8" r="1.55"/><circle class="lb" cx="402.4" cy="1778.6" r="1.55"/><circle class="lb" cx="394.9" cy="1786.0" r="1.55"/><circle class="lb" cx="398.7" cy="1784.3" r="1.55"/><circle class="lb" cx="409.9" cy="1784.8" r="1.55"/><circle class="g" cx="437.8" cy="1719.5" r="1.6"/><circle class="g" cx="436.1" cy="1725.5" r="1.6"/><circle class="g" cx="432.3" cy="1729.4" r="1.6"/><circle class="g" cx="443.5" cy="1729.9" r="1.6"/><circle class="g" cx="450.3" cy="1727.0" r="1.6"/><circle class="g" cx="417.4" cy="1734.9" r="1.6"/><circle class="g" cx="411.1" cy="1738.7" r="1.6"/><circle class="g" cx="397.4" cy="1740.4" r="1.6"/><circle class="g" cx="391.9" cy="1739.4" r="1.6"/><circle class="g" cx="388.0" cy="1741.9" r="1.6"/><circle class="g" cx="371.2" cy="1748.6" r="1.6"/><circle class="g" cx="389.9" cy="1759.9" r="1.6"/><circle class="g" cx="399.9" cy="1756.1" r="1.6"/><circle class="g" cx="415.6" cy="1758.6" r="1.6"/><circle class="g" cx="415.6" cy="1761.1" r="1.6"/><circle class="g" cx="383.7" cy="1775.3" r="1.6"/><circle class="g" cx="391.2" cy="1776.8" r="1.6"/><circle class="g" cx="411.1" cy="1777.8" r="1.6"/><circle class="g" cx="377.0" cy="1782.3" r="1.6"/><circle class="g" cx="375.5" cy="1784.3" r="1.6"/><circle class="g" cx="392.9" cy="1788.5" r="1.6"/><circle class="g" cx="372.0" cy="1794.8" r="1.6"/><circle class="g" cx="381.2" cy="1794.8" r="1.6"/><circle class="g" cx="394.9" cy="1796.0" r="1.6"/><circle class="g" cx="404.4" cy="1793.5" r="1.6"/><circle class="g" cx="377.5" cy="1804.2" r="1.6"/><circle class="g" cx="375.0" cy="1806.0" r="1.6"/><circle class="g" cx="396.2" cy="1804.7" r="1.6"/><circle class="g" cx="385.0" cy="1816.0" r="1.6"/><circle class="g" cx="377.5" cy="1823.4" r="1.6"/><circle class="g" cx="375.0" cy="1825.2" r="1.6"/><circle class="o" cx="233.7" cy="1710.0" r="1.75"/><circle class="o" cx="278.5" cy="1728.7" r="1.75"/><circle class="o" cx="293.0" cy="1726.2" r="1.75"/><circle class="o" cx="334.6" cy="1726.2" r="1.75"/><circle class="o" cx="364.5" cy="1714.5" r="1.75"/><circle class="o" cx="304.2" cy="1736.9" r="1.75"/><circle class="o" cx="315.9" cy="1746.2" r="1.75"/><circle class="o" cx="379.0" cy="1725.0" r="1.75"/><circle class="lo" cx="358.3" cy="1736.2" r="1.8"/><circle class="g" cx="262.3" cy="1728.7" r="1.6"/><circle class="g" cx="251.9" cy="1739.9" r="1.6"/><circle class="g" cx="210.0" cy="1766.1" r="1.6"/><circle class="g" cx="234.2" cy="1768.6" r="1.6"/><circle class="g" cx="257.3" cy="1758.6" r="1.6"/><circle class="g" cx="274.3" cy="1760.6" r="1.6"/><circle class="g" cx="280.3" cy="1754.9" r="1.6"/><circle class="g" cx="271.6" cy="1768.6" r="1.6"/><circle class="gd" cx="296.0" cy="1766.8" r="1.6"/><circle class="g" cx="301.0" cy="1770.3" r="1.6"/><circle class="g" cx="309.7" cy="1757.4" r="1.6"/><circle class="g" cx="278.0" cy="1780.3" r="1.6"/><circle class="g" cx="295.2" cy="1776.8" r="1.6"/><circle class="g" cx="316.4" cy="1774.3" r="1.6"/><circle class="g" cx="317.2" cy="1777.3" r="1.6"/><circle class="g" cx="317.2" cy="1781.1" r="1.6"/><circle class="g" cx="313.4" cy="1781.6" r="1.6"/><circle class="g" cx="324.2" cy="1783.5" r="1.6"/><circle class="g" cx="335.1" cy="1783.5" r="1.6"/><circle class="g" cx="343.4" cy="1777.3" r="1.6"/><circle class="g" cx="343.9" cy="1787.8" r="1.6"/><circle class="g" cx="308.5" cy="1787.8" r="1.6"/><circle class="g" cx="309.0" cy="1791.0" r="1.6"/><circle class="g" cx="312.7" cy="1797.8" r="1.6"/><circle class="g" cx="231.9" cy="1784.3" r="1.6"/><circle class="g" cx="236.2" cy="1786.8" r="1.6"/><circle class="g" cx="218.7" cy="1792.3" r="1.6"/><circle class="g" cx="226.2" cy="1792.8" r="1.6"/><circle class="g" cx="266.8" cy="1791.8" r="1.6"/><circle class="g" cx="354.1" cy="1785.5" r="1.6"/><circle class="g" cx="359.6" cy="1784.8" r="1.6"/><circle class="g" cx="365.8" cy="1784.3" r="1.6"/><circle class="g" cx="369.5" cy="1786.0" r="1.6"/><circle class="g" cx="368.3" cy="1757.4" r="1.6"/><circle class="g" cx="339.1" cy="1756.1" r="1.6"/><circle class="g" cx="333.4" cy="1802.2" r="1.6"/><circle class="g" cx="343.4" cy="1802.2" r="1.6"/><circle class="g" cx="353.3" cy="1801.0" r="1.6"/><circle class="g" cx="230.4" cy="1811.0" r="1.6"/><circle class="g" cx="248.1" cy="1808.0" r="1.6"/><circle class="g" cx="244.4" cy="1812.7" r="1.6"/><circle class="g" cx="267.8" cy="1813.5" r="1.6"/><circle class="g" cx="224.9" cy="1819.7" r="1.6"/><circle class="g" cx="256.1" cy="1821.4" r="1.6"/><circle class="g" cx="259.8" cy="1820.4" r="1.6"/><circle class="g" cx="269.8" cy="1819.7" r="1.6"/><circle class="g" cx="243.6" cy="1823.4" r="1.6"/><circle class="g" cx="248.6" cy="1825.9" r="1.6"/><circle class="g" cx="218.0" cy="1828.4" r="1.6"/><circle class="g" cx="292.7" cy="1819.7" r="1.6"/><circle class="g" cx="294.7" cy="1817.2" r="1.6"/><circle class="g" cx="300.2" cy="1826.7" r="1.6"/><circle class="g" cx="307.7" cy="1821.7" r="1.6"/><circle class="g" cx="327.2" cy="1819.2" r="1.6"/><circle class="g" cx="337.1" cy="1818.5" r="1.6"/><circle class="g" cx="334.1" cy="1824.7" r="1.6"/><circle class="g" cx="343.4" cy="1824.2" r="1.6"/><circle class="g" cx="350.8" cy="1827.2" r="1.6"/><circle class="g" cx="370.0" cy="1825.2" r="1.6"/><circle class="g" cx="140.3" cy="1721.2" r="1.6"/><circle class="g" cx="140.3" cy="1723.7" r="1.6"/><circle class="g" cx="145.0" cy="1747.4" r="1.6"/><circle class="gd" cx="159.7" cy="1772.3" r="1.6"/><circle class="g" cx="191.6" cy="1780.1" r="1.6"/><circle class="g" cx="112.9" cy="1786.0" r="1.6"/><circle class="gd" cx="115.3" cy="1800.3" r="1.6"/><circle class="g" cx="117.8" cy="1811.0" r="1.6"/><circle class="g" cx="126.6" cy="1814.2" r="1.6"/><circle class="g" cx="136.3" cy="1810.2" r="1.6"/><circle class="g" cx="158.0" cy="1810.5" r="1.6"/><circle class="g" cx="174.9" cy="1814.2" r="1.6"/><circle class="g" cx="207.6" cy="1829.7" r="1.6"/><circle class="g" cx="148.8" cy="1823.2" r="1.6"/><circle class="g" cx="109.9" cy="1824.7" r="1.6"/><circle class="g" cx="121.8" cy="1825.9" r="1.6"/><circle class="gd" cx="123.8" cy="1826.7" r="1.6"/><circle class="g" cx="129.8" cy="1826.4" r="1.6"/><circle class="g" cx="114.4" cy="1829.2" r="1.6"/><circle class="b" cx="424.1" cy="1840.7" r="1.75"/><circle class="g" cx="379.5" cy="1842.4" r="1.6"/><circle class="o" cx="249.4" cy="1696.5" r="1.75"/><circle class="o" cx="363.3" cy="1697.3" r="1.75"/><circle class="o" cx="342.9" cy="1704.7" r="1.75"/><circle class="g" cx="371.3" cy="1725.9" r="1.6"/><circle class="o" cx="496.0" cy="1536.2" r="1.75"/><circle class="o" cx="533.4" cy="1589.8" r="1.75"/><circle class="o" cx="536.4" cy="1595.2" r="1.75"/><circle class="o" cx="191.6" cy="1697.4" r="1.75"/><circle class="g" cx="106.1" cy="1911.7" r="1.6"/><circle class="gd" cx="107.9" cy="1911.7" r="1.6"/><circle class="gd" cx="109.9" cy="1911.7" r="1.6"/><circle class="g" cx="111.9" cy="1911.7" r="1.6"/><circle class="gd" cx="113.9" cy="1911.7" r="1.6"/><circle class="gd" cx="115.8" cy="1911.7" r="1.6"/><circle class="g" cx="117.8" cy="1911.7" r="1.6"/><circle class="gd" cx="119.8" cy="1911.7" r="1.6"/><circle class="g" cx="121.8" cy="1911.7" r="1.6"/><circle class="g" cx="123.8" cy="1911.7" r="1.6"/><circle class="gd" cx="126.1" cy="1911.7" r="1.6"/><circle class="g" cx="128.6" cy="1911.7" r="1.6"/><circle class="g" cx="131.1" cy="1911.7" r="1.6"/><circle class="gd" cx="133.5" cy="1911.7" r="1.6"/><circle class="g" cx="136.0" cy="1911.7" r="1.6"/><circle class="gd" cx="138.5" cy="1911.7" r="1.6"/><circle class="gd" cx="141.0" cy="1911.7" r="1.6"/><circle class="gd" cx="143.5" cy="1911.7" r="1.6"/><circle class="gd" cx="146.0" cy="1911.7" r="1.6"/><circle class="g" cx="147.8" cy="1911.7" r="1.6"/><circle class="g" cx="152.7" cy="1911.7" r="1.6"/><circle class="g" cx="154.7" cy="1911.7" r="1.6"/><circle class="g" cx="159.7" cy="1911.7" r="1.6"/><circle class="g" cx="162.7" cy="1911.7" r="1.6"/><circle class="g" cx="175.2" cy="1911.7" r="1.6"/><circle class="g" cx="181.7" cy="1911.7" r="1.6"/><circle class="g" cx="195.9" cy="1911.7" r="1.6"/><circle class="g" cx="229.5" cy="1911.7" r="1.6"/><circle class="g" cx="232.5" cy="1911.7" r="1.6"/><circle class="g" cx="110.4" cy="1899.3" r="1.6"/><circle class="g" cx="119.8" cy="1899.3" r="1.6"/><circle class="gd" cx="125.3" cy="1899.3" r="1.6"/><circle class="g" cx="137.3" cy="1899.3" r="1.6"/><circle class="g" cx="142.3" cy="1899.3" r="1.6"/><circle class="g" cx="148.5" cy="1899.3" r="1.6"/><circle class="g" cx="175.2" cy="1899.3" r="1.6"/><circle class="g" cx="183.9" cy="1899.3" r="1.6"/><circle class="g" cx="191.6" cy="1899.3" r="1.6"/><circle class="gd" cx="213.8" cy="1899.3" r="1.6"/><circle class="gd" cx="111.9" cy="1895.3" r="1.6"/><circle class="g" cx="115.3" cy="1895.3" r="1.6"/><circle class="g" cx="122.8" cy="1895.3" r="1.6"/><circle class="g" cx="133.5" cy="1895.3" r="1.6"/><circle class="g" cx="139.3" cy="1895.3" r="1.6"/><circle class="gd" cx="142.3" cy="1895.3" r="1.6"/><circle class="gd" cx="147.3" cy="1895.3" r="1.6"/><circle class="gd" cx="150.3" cy="1895.3" r="1.6"/><circle class="g" cx="152.2" cy="1895.3" r="1.6"/><circle class="g" cx="155.2" cy="1895.3" r="1.6"/><circle class="gd" cx="158.5" cy="1895.3" r="1.6"/><circle class="g" cx="174.7" cy="1895.3" r="1.6"/><circle class="g" cx="177.7" cy="1895.3" r="1.6"/><circle class="g" cx="208.3" cy="1895.3" r="1.6"/><circle class="g" cx="219.6" cy="1895.3" r="1.6"/><circle class="g" cx="106.1" cy="1887.3" r="1.6"/><circle class="gd" cx="108.6" cy="1887.3" r="1.6"/><circle class="g" cx="111.1" cy="1887.3" r="1.6"/><circle class="g" cx="121.8" cy="1887.3" r="1.6"/><circle class="g" cx="127.8" cy="1887.3" r="1.6"/><circle class="gd" cx="133.5" cy="1887.3" r="1.6"/><circle class="g" cx="135.3" cy="1887.3" r="1.6"/><circle class="g" cx="139.3" cy="1887.3" r="1.6"/><circle class="gd" cx="147.3" cy="1887.3" r="1.6"/><circle class="g" cx="159.7" cy="1887.3" r="1.6"/><circle class="g" cx="163.5" cy="1887.3" r="1.6"/><circle class="g" cx="170.9" cy="1887.3" r="1.6"/><circle class="gd" cx="179.7" cy="1887.3" r="1.6"/><circle class="gd" cx="182.2" cy="1887.3" r="1.6"/><circle class="g" cx="183.9" cy="1887.3" r="1.6"/><circle class="gd" cx="193.4" cy="1887.3" r="1.6"/><circle class="g" cx="194.6" cy="1887.3" r="1.6"/><circle class="g" cx="208.3" cy="1887.3" r="1.6"/><circle class="g" cx="212.6" cy="1887.3" r="1.6"/><circle class="g" cx="217.6" cy="1887.3" r="1.6"/><circle class="gd" cx="225.8" cy="1887.3" r="1.6"/><circle class="g" cx="227.5" cy="1887.3" r="1.6"/><circle class="g" cx="239.5" cy="1887.3" r="1.6"/><circle class="g" cx="106.1" cy="1890.8" r="1.6"/><circle class="g" cx="147.3" cy="1891.1" r="1.6"/><circle class="g" cx="172.2" cy="1891.3" r="1.6"/><circle class="g" cx="230.8" cy="1891.6" r="1.6"/><circle class="gd" cx="106.1" cy="1879.1" r="1.6"/><circle class="gd" cx="109.9" cy="1879.6" r="1.6"/><circle class="g" cx="121.8" cy="1877.3" r="1.6"/><circle class="g" cx="126.1" cy="1878.6" r="1.6"/><circle class="gd" cx="139.3" cy="1879.6" r="1.6"/><circle class="g" cx="141.0" cy="1878.8" r="1.6"/><circle class="g" cx="148.5" cy="1879.6" r="1.6"/><circle class="gd" cx="151.0" cy="1877.6" r="1.6"/><circle class="g" cx="157.7" cy="1878.6" r="1.6"/><circle class="gd" cx="166.0" cy="1877.8" r="1.6"/><circle class="g" cx="169.7" cy="1878.6" r="1.6"/><circle class="g" cx="182.2" cy="1878.8" r="1.6"/><circle class="g" cx="198.4" cy="1877.3" r="1.6"/><circle class="g" cx="203.4" cy="1877.8" r="1.6"/><circle class="g" cx="214.1" cy="1878.1" r="1.6"/><circle class="g" cx="235.8" cy="1879.6" r="1.6"/><circle class="g" cx="108.6" cy="1881.8" r="1.6"/><circle class="g" cx="123.6" cy="1880.3" r="1.6"/><circle class="g" cx="126.8" cy="1881.8" r="1.6"/><circle class="g" cx="147.3" cy="1880.1" r="1.6"/><circle class="g" cx="169.7" cy="1881.3" r="1.6"/><circle class="g" cx="201.4" cy="1880.1" r="1.6"/><circle class="g" cx="236.5" cy="1879.8" r="1.6"/><circle class="g" cx="169.7" cy="1875.8" r="1.6"/><circle class="g" cx="171.4" cy="1874.1" r="1.6"/><circle class="g" cx="175.9" cy="1874.1" r="1.6"/><circle class="g" cx="177.2" cy="1876.1" r="1.6"/><circle class="g" cx="179.7" cy="1875.8" r="1.6"/><circle class="g" cx="187.9" cy="1874.4" r="1.6"/><circle class="g" cx="195.9" cy="1876.1" r="1.6"/><circle class="g" cx="106.1" cy="1869.9" r="1.6"/><circle class="g" cx="108.6" cy="1870.4" r="1.6"/><circle class="gd" cx="112.4" cy="1869.1" r="1.6"/><circle class="g" cx="113.6" cy="1870.9" r="1.6"/><circle class="gd" cx="161.7" cy="1870.4" r="1.6"/><circle class="g" cx="169.7" cy="1871.1" r="1.6"/><circle class="g" cx="179.7" cy="1870.9" r="1.6"/><circle class="g" cx="199.6" cy="1869.4" r="1.6"/><circle class="g" cx="205.4" cy="1869.6" r="1.6"/><circle class="g" cx="214.6" cy="1869.1" r="1.6"/><circle class="g" cx="217.1" cy="1868.9" r="1.6"/><circle class="g" cx="233.8" cy="1868.9" r="1.6"/><circle class="g" cx="106.1" cy="1865.6" r="1.6"/><circle class="g" cx="114.4" cy="1866.4" r="1.6"/><circle class="g" cx="118.6" cy="1864.9" r="1.6"/><circle class="g" cx="133.5" cy="1866.6" r="1.6"/><circle class="g" cx="139.8" cy="1865.6" r="1.6"/><circle class="g" cx="148.5" cy="1865.6" r="1.6"/><circle class="g" cx="150.3" cy="1866.9" r="1.6"/><circle class="g" cx="183.4" cy="1866.1" r="1.6"/><circle class="g" cx="192.1" cy="1865.6" r="1.6"/><circle class="g" cx="196.6" cy="1866.1" r="1.6"/><circle class="g" cx="203.4" cy="1866.6" r="1.6"/><circle class="g" cx="225.8" cy="1865.1" r="1.6"/><circle class="g" cx="232.0" cy="1867.4" r="1.6"/><circle class="g" cx="106.1" cy="1859.1" r="1.6"/><circle class="g" cx="108.6" cy="1860.9" r="1.6"/><circle class="g" cx="117.8" cy="1861.1" r="1.6"/><circle class="g" cx="127.3" cy="1859.1" r="1.6"/><circle class="g" cx="128.6" cy="1861.1" r="1.6"/><circle class="g" cx="137.8" cy="1860.1" r="1.6"/><circle class="g" cx="158.5" cy="1860.6" r="1.6"/><circle class="g" cx="184.2" cy="1859.1" r="1.6"/><circle class="g" cx="194.6" cy="1859.1" r="1.6"/><circle class="g" cx="107.9" cy="1855.9" r="1.6"/><circle class="g" cx="113.6" cy="1857.9" r="1.6"/><circle class="g" cx="151.7" cy="1855.9" r="1.6"/><circle class="g" cx="172.2" cy="1857.4" r="1.6"/><circle class="g" cx="183.4" cy="1857.6" r="1.6"/><circle class="g" cx="189.6" cy="1857.6" r="1.6"/><circle class="gd" cx="205.8" cy="1856.2" r="1.6"/><circle class="g" cx="229.5" cy="1856.4" r="1.6"/><circle class="g" cx="106.1" cy="1852.4" r="1.6"/><circle class="g" cx="113.6" cy="1853.2" r="1.6"/><circle class="g" cx="136.0" cy="1851.4" r="1.6"/><circle class="g" cx="148.5" cy="1852.9" r="1.6"/><circle class="gd" cx="190.9" cy="1853.2" r="1.6"/><circle class="g" cx="192.1" cy="1853.4" r="1.6"/><circle class="g" cx="229.0" cy="1851.2" r="1.6"/><circle class="g" cx="239.5" cy="1853.4" r="1.6"/><circle class="g" cx="106.1" cy="1845.7" r="1.6"/><circle class="gd" cx="191.4" cy="1846.2" r="1.6"/><circle class="g" cx="197.6" cy="1846.9" r="1.6"/><circle class="g" cx="211.6" cy="1847.7" r="1.6"/><circle class="g" cx="213.3" cy="1846.2" r="1.6"/><circle class="g" cx="228.3" cy="1847.7" r="1.6"/><circle class="g" cx="232.0" cy="1846.7" r="1.6"/><circle class="g" cx="151.0" cy="1841.9" r="1.6"/><circle class="g" cx="187.6" cy="1837.0" r="1.6"/><circle class="g" cx="206.6" cy="1836.7" r="1.6"/><circle class="g" cx="213.8" cy="1836.5" r="1.6"/><circle class="g" cx="224.5" cy="1836.5" r="1.6"/><circle class="g" cx="106.1" cy="1831.7" r="1.6"/><circle class="g" cx="108.6" cy="1832.5" r="1.6"/><circle class="g" cx="119.8" cy="1832.5" r="1.6"/><circle class="g" cx="127.3" cy="1831.2" r="1.6"/><circle class="g" cx="126.1" cy="1827.0" r="1.6"/><circle class="g" cx="272.8" cy="1911.7" r="1.6"/><circle class="g" cx="256.1" cy="1899.3" r="1.6"/><circle class="gd" cx="268.1" cy="1899.3" r="1.6"/><circle class="g" cx="285.5" cy="1899.3" r="1.6"/><circle class="g" cx="240.4" cy="1895.3" r="1.6"/><circle class="gd" cx="249.9" cy="1895.3" r="1.6"/><circle class="g" cx="251.9" cy="1895.3" r="1.6"/><circle class="gd" cx="289.8" cy="1895.3" r="1.6"/><circle class="g" cx="291.5" cy="1895.3" r="1.6"/><circle class="g" cx="348.8" cy="1895.3" r="1.6"/><circle class="g" cx="250.6" cy="1890.6" r="1.6"/><circle class="g" cx="276.5" cy="1887.3" r="1.6"/><circle class="g" cx="292.7" cy="1887.3" r="1.6"/><circle class="g" cx="333.4" cy="1887.3" r="1.6"/><circle class="g" cx="353.3" cy="1887.3" r="1.6"/><circle class="g" cx="203.7" cy="1881.1" r="1.6"/><circle class="g" cx="200.0" cy="1882.8" r="1.6"/><circle class="g" cx="244.4" cy="1877.3" r="1.6"/><circle class="g" cx="247.4" cy="1878.6" r="1.6"/><circle class="g" cx="289.3" cy="1878.6" r="1.6"/><circle class="g" cx="292.2" cy="1880.6" r="1.6"/><circle class="g" cx="205.5" cy="1873.1" r="1.6"/><circle class="g" cx="233.7" cy="1872.4" r="1.6"/><circle class="g" cx="256.8" cy="1875.3" r="1.6"/><circle class="g" cx="307.2" cy="1873.6" r="1.6"/><circle class="g" cx="322.2" cy="1873.6" r="1.6"/><circle class="g" cx="344.6" cy="1870.6" r="1.6"/><circle class="g" cx="231.7" cy="1864.4" r="1.6"/><circle class="g" cx="253.6" cy="1864.9" r="1.6"/><circle class="g" cx="256.8" cy="1867.4" r="1.6"/><circle class="g" cx="269.8" cy="1868.6" r="1.6"/><circle class="g" cx="281.8" cy="1868.6" r="1.6"/><circle class="gd" cx="294.7" cy="1867.4" r="1.6"/><circle class="g" cx="298.0" cy="1865.6" r="1.6"/><circle class="g" cx="336.6" cy="1863.6" r="1.6"/><circle class="g" cx="347.1" cy="1866.9" r="1.6"/><circle class="g" cx="244.4" cy="1857.4" r="1.6"/><circle class="g" cx="251.1" cy="1858.6" r="1.6"/><circle class="g" cx="263.6" cy="1858.6" r="1.6"/><circle class="g" cx="276.0" cy="1858.6" r="1.6"/><circle class="g" cx="278.5" cy="1856.9" r="1.6"/><circle class="g" cx="283.5" cy="1855.7" r="1.6"/><circle class="gd" cx="333.4" cy="1858.6" r="1.6"/><circle class="g" cx="334.1" cy="1859.9" r="1.6"/><circle class="g" cx="239.9" cy="1850.4" r="1.6"/><circle class="gd" cx="246.1" cy="1851.7" r="1.6"/><circle class="g" cx="272.8" cy="1850.4" r="1.6"/><circle class="g" cx="277.3" cy="1851.9" r="1.6"/><circle class="gd" cx="310.9" cy="1853.7" r="1.6"/><circle class="g" cx="315.2" cy="1852.4" r="1.6"/><circle class="g" cx="311.4" cy="1849.9" r="1.6"/><circle class="g" cx="348.8" cy="1851.9" r="1.6"/><circle class="g" cx="213.7" cy="1843.7" r="1.6"/><circle class="g" cx="226.9" cy="1844.9" r="1.6"/><circle class="g" cx="248.1" cy="1845.4" r="1.6"/><circle class="g" cx="258.6" cy="1842.4" r="1.6"/><circle class="g" cx="286.8" cy="1844.9" r="1.6"/><circle class="g" cx="326.7" cy="1847.4" r="1.6"/><circle class="g" cx="328.9" cy="1846.2" r="1.6"/><circle class="g" cx="335.9" cy="1843.7" r="1.6"/><circle class="g" cx="346.6" cy="1845.7" r="1.6"/><circle class="g" cx="357.6" cy="1847.4" r="1.6"/><circle class="g" cx="224.9" cy="1838.7" r="1.6"/><circle class="gd" cx="261.1" cy="1835.5" r="1.6"/><circle class="g" cx="266.1" cy="1839.4" r="1.6"/><circle class="g" cx="271.1" cy="1836.2" r="1.6"/><circle class="g" cx="274.3" cy="1836.2" r="1.6"/><circle class="g" cx="277.8" cy="1838.7" r="1.6"/><circle class="g" cx="279.3" cy="1836.2" r="1.6"/><circle class="g" cx="284.3" cy="1841.2" r="1.6"/><circle class="g" cx="289.8" cy="1839.9" r="1.6"/><circle class="g" cx="307.7" cy="1839.4" r="1.6"/><circle class="g" cx="312.2" cy="1836.2" r="1.6"/><circle class="g" cx="330.9" cy="1836.2" r="1.6"/><circle class="g" cx="354.6" cy="1839.9" r="1.6"/><circle class="g" cx="364.5" cy="1838.7" r="1.6"/><circle class="g" cx="260.6" cy="1831.2" r="1.6"/><circle class="g" cx="263.6" cy="1831.2" r="1.6"/><circle class="g" cx="281.0" cy="1827.5" r="1.6"/><circle class="g" cx="282.3" cy="1830.0" r="1.6"/><circle class="g" cx="286.0" cy="1831.2" r="1.6"/><circle class="g" cx="301.0" cy="1830.0" r="1.6"/><circle class="g" cx="305.2" cy="1832.5" r="1.6"/><circle class="g" cx="322.9" cy="1832.0" r="1.6"/><circle class="g" cx="337.6" cy="1831.2" r="1.6"/><circle class="g" cx="344.1" cy="1830.7" r="1.6"/><circle class="g" cx="362.1" cy="1829.5" r="1.6"/><circle class="g" cx="106.9" cy="1911.7" r="1.6"/><circle class="g" cx="108.6" cy="1911.7" r="1.6"/><circle class="g" cx="110.4" cy="1911.7" r="1.6"/><circle class="g" cx="112.1" cy="1911.7" r="1.6"/><circle class="g" cx="113.9" cy="1911.7" r="1.6"/><circle class="g" cx="115.6" cy="1911.7" r="1.6"/><circle class="g" cx="117.3" cy="1911.7" r="1.6"/><circle class="g" cx="119.1" cy="1911.7" r="1.6"/><circle class="g" cx="120.8" cy="1911.7" r="1.6"/><circle class="g" cx="122.6" cy="1911.7" r="1.6"/><circle class="g" cx="124.3" cy="1911.7" r="1.6"/><circle class="g" cx="126.1" cy="1911.7" r="1.6"/><circle class="g" cx="127.8" cy="1911.7" r="1.6"/><circle class="g" cx="129.6" cy="1911.7" r="1.6"/><circle class="g" cx="131.3" cy="1911.7" r="1.6"/><circle class="g" cx="133.0" cy="1911.7" r="1.6"/><circle class="g" cx="134.8" cy="1911.7" r="1.6"/><circle class="g" cx="136.5" cy="1911.7" r="1.6"/><circle class="g" cx="138.3" cy="1911.7" r="1.6"/><circle class="g" cx="140.0" cy="1911.7" r="1.6"/><circle class="g" cx="141.8" cy="1911.7" r="1.6"/><circle class="g" cx="143.5" cy="1911.7" r="1.6"/><circle class="g" cx="145.3" cy="1911.7" r="1.6"/><circle class="g" cx="147.0" cy="1911.7" r="1.6"/>
<path class="ll" d="M378.7 1668.6L387.5 1687.3"/><path class="ll" d="M401.2 1672.3L391.2 1679.8"/><path class="ll" d="M370.0 1808.0L407.4 1811.5"/><path class="ll" d="M414.9 1805.5L419.9 1804.2"/><path class="ll" d="M345.8 1808.5L379.5 1808.5"/>
<rect x="70" y="1495" width="202" height="80" fill="#fff"/>
<text x="73.5" y="1523.5" font-size="26" fill="#111">placental&#160; amnion</text>
<text x="73.5" y="1561.8" font-size="26" fill="#111">R=0.8, p&lt;0.001</text>
<text transform="translate(68.7,1701) rotate(-90)" font-size="15.9" fill="#1a1a1a" stroke="#1a1a1a" stroke-width=".2" text-anchor="middle">protein</text>
<text x="396.8" y="1952.5" font-size="16.3" fill="#111" text-anchor="middle">tissue</text>
<text transform="translate(704.5,1508.0) scale(1,.9)" font-size="8.55" fill="#1a1a1a" stroke="#1a1a1a" stroke-width="0.3" text-anchor="end">hsa-miR-21-5p</text><text transform="translate(680.4,1526.6) scale(1,.9)" font-size="8.55" fill="#1a1a1a" stroke="#1a1a1a" stroke-width="0.3" text-anchor="end">hsa-miR-221-3p</text><text transform="translate(619.8,1581.5) scale(1,.9)" font-size="8.55" fill="#1a1a1a" stroke="#1a1a1a" stroke-width="0.3" text-anchor="end">hsa-miR-100-5p</text><text transform="translate(607.3,1600.9) scale(1,.9)" font-size="8.55" fill="#1a1a1a" stroke="#1a1a1a" stroke-width="0.3" text-anchor="end">hsa-miR-320a-3p</text><text transform="translate(657.2,1631.9) scale(1,.9)" font-size="8.55" fill="#1a1a1a" stroke="#1a1a1a" stroke-width="0.3" text-anchor="end">hsa-miR-26a-5p</text><text transform="translate(708.3,1649.4) scale(1,.9)" font-size="8.55" fill="#1a1a1a" stroke="#1a1a1a" stroke-width="0.3" text-anchor="end">hsa-miR-103a-3p</text><text transform="translate(635.5,1662.3) scale(1,.9)" font-size="8.55" fill="#1a1a1a" stroke="#1a1a1a" stroke-width="0.3" text-anchor="end">hsa-miR-376c-3p</text><text transform="translate(644.0,1676.0) scale(1,.9)" font-size="8.55" fill="#1a1a1a" stroke="#1a1a1a" stroke-width="0.3" text-anchor="end">hsa-let-7f-5p</text><text transform="translate(579.9,1676.0) scale(1,.9)" font-size="8.55" fill="#1a1a1a" stroke="#1a1a1a" stroke-width="0.3" text-anchor="end">hsa-miR-26b-5p</text><text transform="translate(606.1,1691.0) scale(1,.9)" font-size="8.55" fill="#1a1a1a" stroke="#1a1a1a" stroke-width="0.3" text-anchor="end">hsa-miR-199a-5p</text><text transform="translate(573.7,1709.2) scale(1,.9)" font-size="8.55" fill="#1a1a1a" stroke="#1a1a1a" stroke-width="0.3" text-anchor="end">hsa-miR-376a-3p</text><text transform="translate(480.4,1634.9) scale(1,.9)" font-size="8.55" fill="#1a1a1a" stroke="#1a1a1a" stroke-width="0.3" text-anchor="end">hsa-miR-410-3p</text><text transform="translate(431.8,1651.9) scale(1,.9)" font-size="8.55" fill="#1a1a1a" stroke="#1a1a1a" stroke-width="0.3" text-anchor="end">hsa-miR-423-5p</text><text transform="translate(524.6,1651.9) scale(1,.9)" font-size="8.55" fill="#1a1a1a" stroke="#1a1a1a" stroke-width="0.3" text-anchor="end">hsa-miR-323a-3p</text><text transform="translate(447.8,1669.1) scale(1,.9)" font-size="8.55" fill="#1a1a1a" stroke="#1a1a1a" stroke-width="0.3" text-anchor="end">hsa-miR-433-3p</text><text transform="translate(397.4,1681.8) scale(1,.9)" font-size="8.55" fill="#1a1a1a" stroke="#1a1a1a" stroke-width="0.3" text-anchor="end">hsa-miR-323b-3p</text><text transform="translate(480.9,1695.5) scale(1,.9)" font-size="8.55" fill="#1a1a1a" stroke="#1a1a1a" stroke-width="0.3" text-anchor="end">hsa-miR-337-5p</text><text transform="translate(446.0,1709.7) scale(1,.9)" font-size="8.55" fill="#1a1a1a" stroke="#1a1a1a" stroke-width="0.3" text-anchor="end">hsa-miR-500a-3p</text><text transform="translate(431.8,1722.5) scale(1,.9)" font-size="8.55" fill="#1a1a1a" stroke="#1a1a1a" stroke-width="0.3" text-anchor="end">hsa-miR-574-5p</text><text transform="translate(519.6,1724.2) scale(1,.9)" font-size="8.55" fill="#1a1a1a" stroke="#1a1a1a" stroke-width="0.3" text-anchor="end">hsa-let-7b-5p</text><text transform="translate(501.4,1741.2) scale(1,.9)" font-size="8.55" fill="#1a1a1a" stroke="#1a1a1a" stroke-width="0.3" text-anchor="end">hsa-miR-149-5p</text><text transform="translate(454.8,1753.6) scale(1,.9)" font-size="8.55" fill="#1a1a1a" stroke="#1a1a1a" stroke-width="0.3" text-anchor="end">hsa-miR-574-3p</text><text transform="translate(522.6,1758.1) scale(1,.9)" font-size="8.55" fill="#1a1a1a" stroke="#1a1a1a" stroke-width="0.3" text-anchor="end">hsa-miR-31-5p</text><text transform="translate(545.3,1782.8) scale(1,.9)" font-size="8.55" fill="#1a1a1a" stroke="#1a1a1a" stroke-width="0.3" text-anchor="end">hsa-let-7a-5p</text><text transform="translate(421.1,1795.3) scale(1,.9)" font-size="8.55" fill="#1a1a1a" stroke="#1a1a1a" stroke-width="0.3" text-anchor="end">hsa-miR-493-5p</text><text transform="translate(497.2,1794.8) scale(1,.9)" font-size="8.55" fill="#1a1a1a" stroke="#1a1a1a" stroke-width="0.3" text-anchor="end">hsa-miR-214-3p</text><text transform="translate(412.4,1807.2) scale(1,.9)" font-size="8.55" fill="#1a1a1a" stroke="#1a1a1a" stroke-width="0.3" text-anchor="end">hsa-miR-20a-5p</text><text transform="translate(498.4,1807.7) scale(1,.9)" font-size="8.55" fill="#1a1a1a" stroke="#1a1a1a" stroke-width="0.3" text-anchor="end">hsa-miR-146b-5p</text><text transform="translate(411.9,1821.4) scale(1,.9)" font-size="8.55" fill="#1a1a1a" stroke="#1a1a1a" stroke-width="0.3" text-anchor="end">hsa-miR-675-5p</text><text transform="translate(480.2,1826.4) scale(1,.9)" font-size="8.55" fill="#1a1a1a" stroke="#1a1a1a" stroke-width="0.3" text-anchor="end">hsa-miR-744-5p</text><text transform="translate(287.3,1723.0) scale(1,.9)" font-size="8.55" fill="#1a1a1a" stroke="#1a1a1a" stroke-width="0.3" text-anchor="end">hsa-miR-320c</text><text transform="translate(347.8,1721.7) scale(1,.9)" font-size="8.55" fill="#1a1a1a" stroke="#1a1a1a" stroke-width="0.3" text-anchor="end">hsa-miR-451a</text><text transform="translate(274.0,1736.2) scale(1,.9)" font-size="8.55" fill="#1a1a1a" stroke="#1a1a1a" stroke-width="0.3" text-anchor="end">hsa-miR-125a-3p</text><text transform="translate(379.0,1735.7) scale(1,.9)" font-size="8.55" fill="#1a1a1a" stroke="#1a1a1a" stroke-width="0.3" text-anchor="end">hsa-miR-193a-5p</text><text transform="translate(307.2,1749.4) scale(1,.9)" font-size="8.55" fill="#1a1a1a" stroke="#1a1a1a" stroke-width="0.3" text-anchor="end">hsa-miR-532-3p</text><text transform="translate(373.3,1756.1) scale(1,.9)" font-size="8.55" fill="#1a1a1a" stroke="#1a1a1a" stroke-width="0.3" text-anchor="end">hsa-miR-412-5p</text><text transform="translate(344.6,1810.2) scale(1,.9)" font-size="8.55" fill="#1a1a1a" stroke="#1a1a1a" stroke-width="0.3" text-anchor="end">hsa-miR-1185-5p</text><text transform="translate(406.9,1837.5) scale(1,.9)" font-size="8.55" fill="#1a1a1a" stroke="#1a1a1a" stroke-width="0.3" text-anchor="end">hsa-miR-28-5p</text><text transform="translate(466.0,1850.4) scale(1,.9)" font-size="8.55" fill="#1a1a1a" stroke="#1a1a1a" stroke-width="0.3" text-anchor="end">hsa-miR-454-3p</text><text transform="translate(377.5,1669.1) scale(1,.9)" font-size="8.55" fill="#1a1a1a" stroke="#1a1a1a" stroke-width="0.3" text-anchor="end">hsa-miR-15a-5p</text><text transform="translate(286.0,1691.8) scale(1,.9)" font-size="8.55" fill="#1a1a1a" stroke="#1a1a1a" stroke-width="0.3" text-anchor="end">hsa-miR-1290</text><text transform="translate(360.8,1694.3) scale(1,.9)" font-size="8.55" fill="#1a1a1a" stroke="#1a1a1a" stroke-width="0.3" text-anchor="end">hsa-miR-193b-5p</text><text transform="translate(245.4,1704.7) scale(1,.9)" font-size="8.55" fill="#1a1a1a" stroke="#1a1a1a" stroke-width="0.3" text-anchor="end">hsa-miR-1246</text><text transform="translate(338.9,1707.7) scale(1,.9)" font-size="8.55" fill="#1a1a1a" stroke="#1a1a1a" stroke-width="0.3" text-anchor="end">hsa-miR-320b</text><text transform="translate(517.2,1546.1) scale(1,.9)" font-size="8.55" fill="#1a1a1a" stroke="#1a1a1a" stroke-width="0.3" text-anchor="end">hsa-miR-483-5p</text><text transform="translate(551.6,1585.5) scale(1,.9)" font-size="8.55" fill="#1a1a1a" stroke="#1a1a1a" stroke-width="0.3" text-anchor="end">hsa-miR-660-5p</text><text transform="translate(553.3,1615.2) scale(1,.9)" font-size="8.55" fill="#1a1a1a" stroke="#1a1a1a" stroke-width="0.3" text-anchor="end">hsa-miR-92a-3p</text><text transform="translate(582.8,1725.7) scale(1,.9)" font-size="8.55" fill="#1a1a1a" stroke="#1a1a1a" stroke-width="0.3" text-anchor="end">hsa-miR-98-5p</text><text transform="translate(579.8,1759.8) scale(1,.9)" font-size="8.55" fill="#1a1a1a" stroke="#1a1a1a" stroke-width="0.3" text-anchor="end">hsa-let-7e-5p</text><text transform="translate(210.4,1692.2) scale(1,.9)" font-size="8.55" fill="#1a1a1a" stroke="#1a1a1a" stroke-width="0.3" text-anchor="end">hsa-miR-619-5p</text>
</g>
</svg>
</body></html>
